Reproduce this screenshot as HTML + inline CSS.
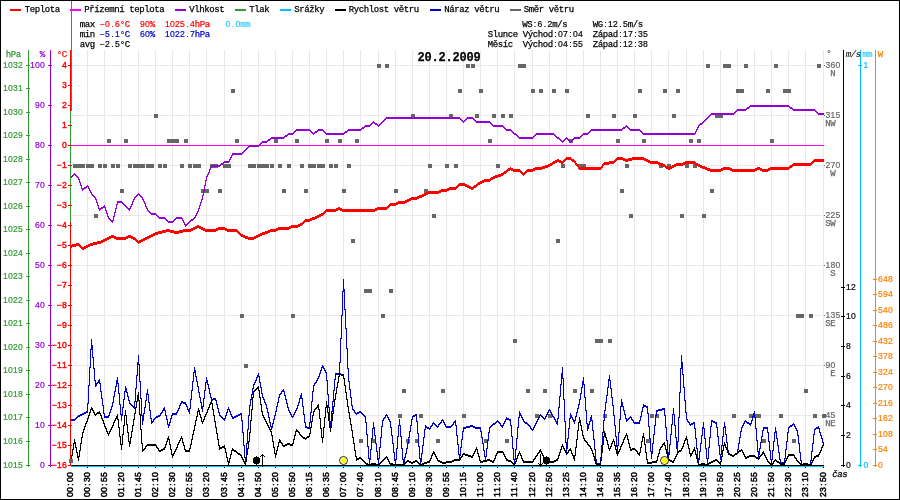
<!DOCTYPE html>
<html><head><meta charset="utf-8"><title>graf</title>
<style>
html,body{margin:0;padding:0;background:#fff;}
svg{display:block;}
.t{font-family:"Liberation Mono",monospace;font-size:9.0px;white-space:pre;}
.s{font-family:"Liberation Sans",sans-serif;font-size:8.6px;stroke-width:0.2px;}
.b .s{stroke-width:0.5px;}
.r .s{stroke-width:0.42px;}
.t{stroke-width:0.25px;}
.b{stroke-width:0.55px;}
.t.n,.t.n .s{stroke-width:0.05px;}
.h{font-family:"Liberation Mono",monospace;font-size:12px;font-weight:bold;letter-spacing:-0.2px;stroke:#000;stroke-width:0.25px;}
</style></head><body>
<svg width="900" height="500" viewBox="0 0 900 500">
<rect x="0" y="0" width="900" height="500" fill="#ffffff"/>
<g shape-rendering="crispEdges">
<rect x="87" y="50" width="1" height="415" fill="#ece6e6"/>
<rect x="104" y="50" width="1" height="415" fill="#ece6e6"/>
<rect x="121" y="50" width="1" height="415" fill="#ece6e6"/>
<rect x="138" y="50" width="1" height="415" fill="#ece6e6"/>
<rect x="155" y="50" width="1" height="415" fill="#ece6e6"/>
<rect x="172" y="50" width="1" height="415" fill="#ece6e6"/>
<rect x="189" y="50" width="1" height="415" fill="#ece6e6"/>
<rect x="206" y="50" width="1" height="415" fill="#ece6e6"/>
<rect x="224" y="50" width="1" height="415" fill="#ece6e6"/>
<rect x="241" y="50" width="1" height="415" fill="#ece6e6"/>
<rect x="258" y="50" width="1" height="415" fill="#ece6e6"/>
<rect x="275" y="50" width="1" height="415" fill="#ece6e6"/>
<rect x="292" y="50" width="1" height="415" fill="#ece6e6"/>
<rect x="309" y="50" width="1" height="415" fill="#ece6e6"/>
<rect x="326" y="50" width="1" height="415" fill="#ece6e6"/>
<rect x="343" y="50" width="1" height="415" fill="#ece6e6"/>
<rect x="360" y="50" width="1" height="415" fill="#ece6e6"/>
<rect x="378" y="50" width="1" height="415" fill="#ece6e6"/>
<rect x="395" y="50" width="1" height="415" fill="#ece6e6"/>
<rect x="412" y="50" width="1" height="415" fill="#ece6e6"/>
<rect x="429" y="50" width="1" height="415" fill="#ece6e6"/>
<rect x="446" y="50" width="1" height="415" fill="#ece6e6"/>
<rect x="463" y="50" width="1" height="415" fill="#ece6e6"/>
<rect x="480" y="50" width="1" height="415" fill="#ece6e6"/>
<rect x="497" y="50" width="1" height="415" fill="#ece6e6"/>
<rect x="514" y="50" width="1" height="415" fill="#ece6e6"/>
<rect x="532" y="50" width="1" height="415" fill="#ece6e6"/>
<rect x="549" y="50" width="1" height="415" fill="#ece6e6"/>
<rect x="566" y="50" width="1" height="415" fill="#ece6e6"/>
<rect x="583" y="50" width="1" height="415" fill="#ece6e6"/>
<rect x="600" y="50" width="1" height="415" fill="#ece6e6"/>
<rect x="617" y="50" width="1" height="415" fill="#ece6e6"/>
<rect x="634" y="50" width="1" height="415" fill="#ece6e6"/>
<rect x="651" y="50" width="1" height="415" fill="#ece6e6"/>
<rect x="668" y="50" width="1" height="415" fill="#ece6e6"/>
<rect x="686" y="50" width="1" height="415" fill="#ece6e6"/>
<rect x="703" y="50" width="1" height="415" fill="#ece6e6"/>
<rect x="720" y="50" width="1" height="415" fill="#ece6e6"/>
<rect x="737" y="50" width="1" height="415" fill="#ece6e6"/>
<rect x="754" y="50" width="1" height="415" fill="#ece6e6"/>
<rect x="771" y="50" width="1" height="415" fill="#ece6e6"/>
<rect x="788" y="50" width="1" height="415" fill="#ece6e6"/>
<rect x="805" y="50" width="1" height="415" fill="#ece6e6"/>
<rect x="823" y="50" width="1" height="415" fill="#ece6e6"/>
<rect x="71" y="65" width="753" height="1" fill="#ece6e6"/>
<rect x="71" y="115" width="753" height="1" fill="#ece6e6"/>
<rect x="71" y="165" width="753" height="1" fill="#ece6e6"/>
<rect x="71" y="215" width="753" height="1" fill="#ece6e6"/>
<rect x="71" y="265" width="753" height="1" fill="#ece6e6"/>
<rect x="71" y="315" width="753" height="1" fill="#ece6e6"/>
<rect x="71" y="365" width="753" height="1" fill="#ece6e6"/>
<rect x="71" y="415" width="753" height="1" fill="#ece6e6"/>
<rect x="71" y="465" width="753" height="1" fill="#ece6e6"/>
</g>
<g shape-rendering="crispEdges" fill="#666666">
<rect x="377" y="64" width="4" height="4"/>
<rect x="385" y="64" width="4" height="4"/>
<rect x="466" y="64" width="4" height="4"/>
<rect x="471" y="64" width="4" height="4"/>
<rect x="518" y="64" width="4" height="4"/>
<rect x="522" y="64" width="4" height="4"/>
<rect x="706" y="64" width="4" height="4"/>
<rect x="723" y="64" width="4" height="4"/>
<rect x="727" y="64" width="4" height="4"/>
<rect x="744" y="64" width="4" height="4"/>
<rect x="774" y="64" width="4" height="4"/>
<rect x="817" y="64" width="4" height="4"/>
<rect x="231" y="89" width="4" height="4"/>
<rect x="458" y="89" width="4" height="4"/>
<rect x="479" y="89" width="4" height="4"/>
<rect x="531" y="89" width="4" height="4"/>
<rect x="539" y="89" width="4" height="4"/>
<rect x="552" y="89" width="4" height="4"/>
<rect x="565" y="89" width="4" height="4"/>
<rect x="638" y="89" width="4" height="4"/>
<rect x="663" y="89" width="4" height="4"/>
<rect x="676" y="89" width="4" height="4"/>
<rect x="736" y="89" width="4" height="4"/>
<rect x="740" y="89" width="4" height="4"/>
<rect x="766" y="89" width="4" height="4"/>
<rect x="783" y="89" width="4" height="4"/>
<rect x="787" y="89" width="4" height="4"/>
<rect x="154" y="114" width="4" height="4"/>
<rect x="411" y="114" width="4" height="4"/>
<rect x="449" y="114" width="4" height="4"/>
<rect x="475" y="114" width="4" height="4"/>
<rect x="492" y="114" width="4" height="4"/>
<rect x="501" y="114" width="4" height="4"/>
<rect x="509" y="114" width="4" height="4"/>
<rect x="586" y="114" width="4" height="4"/>
<rect x="612" y="114" width="4" height="4"/>
<rect x="633" y="114" width="4" height="4"/>
<rect x="672" y="114" width="4" height="4"/>
<rect x="715" y="114" width="4" height="4"/>
<rect x="719" y="114" width="4" height="4"/>
<rect x="107" y="139" width="4" height="4"/>
<rect x="124" y="139" width="4" height="4"/>
<rect x="167" y="139" width="4" height="4"/>
<rect x="171" y="139" width="4" height="4"/>
<rect x="175" y="139" width="4" height="4"/>
<rect x="184" y="139" width="4" height="4"/>
<rect x="235" y="139" width="4" height="4"/>
<rect x="274" y="139" width="4" height="4"/>
<rect x="295" y="139" width="4" height="4"/>
<rect x="325" y="139" width="4" height="4"/>
<rect x="338" y="139" width="4" height="4"/>
<rect x="355" y="139" width="4" height="4"/>
<rect x="488" y="139" width="4" height="4"/>
<rect x="569" y="139" width="4" height="4"/>
<rect x="616" y="139" width="4" height="4"/>
<rect x="642" y="139" width="4" height="4"/>
<rect x="689" y="139" width="4" height="4"/>
<rect x="697" y="139" width="4" height="4"/>
<rect x="770" y="139" width="4" height="4"/>
<rect x="73" y="164" width="4" height="4"/>
<rect x="77" y="164" width="4" height="4"/>
<rect x="81" y="164" width="4" height="4"/>
<rect x="86" y="164" width="4" height="4"/>
<rect x="90" y="164" width="4" height="4"/>
<rect x="98" y="164" width="4" height="4"/>
<rect x="103" y="164" width="4" height="4"/>
<rect x="111" y="164" width="4" height="4"/>
<rect x="116" y="164" width="4" height="4"/>
<rect x="128" y="164" width="4" height="4"/>
<rect x="133" y="164" width="4" height="4"/>
<rect x="137" y="164" width="4" height="4"/>
<rect x="141" y="164" width="4" height="4"/>
<rect x="146" y="164" width="4" height="4"/>
<rect x="150" y="164" width="4" height="4"/>
<rect x="158" y="164" width="4" height="4"/>
<rect x="163" y="164" width="4" height="4"/>
<rect x="180" y="164" width="4" height="4"/>
<rect x="188" y="164" width="4" height="4"/>
<rect x="193" y="164" width="4" height="4"/>
<rect x="197" y="164" width="4" height="4"/>
<rect x="210" y="164" width="4" height="4"/>
<rect x="214" y="164" width="4" height="4"/>
<rect x="223" y="164" width="4" height="4"/>
<rect x="227" y="164" width="4" height="4"/>
<rect x="248" y="164" width="4" height="4"/>
<rect x="252" y="164" width="4" height="4"/>
<rect x="257" y="164" width="4" height="4"/>
<rect x="261" y="164" width="4" height="4"/>
<rect x="265" y="164" width="4" height="4"/>
<rect x="270" y="164" width="4" height="4"/>
<rect x="278" y="164" width="4" height="4"/>
<rect x="287" y="164" width="4" height="4"/>
<rect x="300" y="164" width="4" height="4"/>
<rect x="308" y="164" width="4" height="4"/>
<rect x="312" y="164" width="4" height="4"/>
<rect x="317" y="164" width="4" height="4"/>
<rect x="321" y="164" width="4" height="4"/>
<rect x="329" y="164" width="4" height="4"/>
<rect x="334" y="164" width="4" height="4"/>
<rect x="347" y="164" width="4" height="4"/>
<rect x="428" y="164" width="4" height="4"/>
<rect x="445" y="164" width="4" height="4"/>
<rect x="454" y="164" width="4" height="4"/>
<rect x="496" y="164" width="4" height="4"/>
<rect x="561" y="164" width="4" height="4"/>
<rect x="578" y="164" width="4" height="4"/>
<rect x="582" y="164" width="4" height="4"/>
<rect x="625" y="164" width="4" height="4"/>
<rect x="659" y="164" width="4" height="4"/>
<rect x="667" y="164" width="4" height="4"/>
<rect x="685" y="164" width="4" height="4"/>
<rect x="693" y="164" width="4" height="4"/>
<rect x="120" y="189" width="4" height="4"/>
<rect x="201" y="189" width="4" height="4"/>
<rect x="205" y="189" width="4" height="4"/>
<rect x="218" y="189" width="4" height="4"/>
<rect x="282" y="189" width="4" height="4"/>
<rect x="304" y="189" width="4" height="4"/>
<rect x="342" y="189" width="4" height="4"/>
<rect x="394" y="189" width="4" height="4"/>
<rect x="424" y="189" width="4" height="4"/>
<rect x="620" y="189" width="4" height="4"/>
<rect x="710" y="189" width="4" height="4"/>
<rect x="94" y="214" width="4" height="4"/>
<rect x="432" y="214" width="4" height="4"/>
<rect x="629" y="214" width="4" height="4"/>
<rect x="680" y="214" width="4" height="4"/>
<rect x="702" y="214" width="4" height="4"/>
<rect x="351" y="239" width="4" height="4"/>
<rect x="556" y="239" width="4" height="4"/>
<rect x="364" y="289" width="4" height="4"/>
<rect x="368" y="289" width="4" height="4"/>
<rect x="389" y="289" width="4" height="4"/>
<rect x="240" y="314" width="4" height="4"/>
<rect x="291" y="314" width="4" height="4"/>
<rect x="381" y="314" width="4" height="4"/>
<rect x="796" y="314" width="4" height="4"/>
<rect x="800" y="314" width="4" height="4"/>
<rect x="809" y="314" width="4" height="4"/>
<rect x="513" y="339" width="4" height="4"/>
<rect x="595" y="339" width="4" height="4"/>
<rect x="599" y="339" width="4" height="4"/>
<rect x="608" y="339" width="4" height="4"/>
<rect x="244" y="364" width="4" height="4"/>
<rect x="402" y="389" width="4" height="4"/>
<rect x="441" y="389" width="4" height="4"/>
<rect x="526" y="389" width="4" height="4"/>
<rect x="543" y="389" width="4" height="4"/>
<rect x="573" y="389" width="4" height="4"/>
<rect x="590" y="389" width="4" height="4"/>
<rect x="804" y="389" width="4" height="4"/>
<rect x="398" y="414" width="4" height="4"/>
<rect x="419" y="414" width="4" height="4"/>
<rect x="462" y="414" width="4" height="4"/>
<rect x="535" y="414" width="4" height="4"/>
<rect x="548" y="414" width="4" height="4"/>
<rect x="603" y="414" width="4" height="4"/>
<rect x="650" y="414" width="4" height="4"/>
<rect x="655" y="414" width="4" height="4"/>
<rect x="732" y="414" width="4" height="4"/>
<rect x="749" y="414" width="4" height="4"/>
<rect x="753" y="414" width="4" height="4"/>
<rect x="757" y="414" width="4" height="4"/>
<rect x="779" y="414" width="4" height="4"/>
<rect x="813" y="414" width="4" height="4"/>
<rect x="822" y="414" width="4" height="4"/>
<rect x="359" y="439" width="4" height="4"/>
<rect x="372" y="439" width="4" height="4"/>
<rect x="406" y="439" width="4" height="4"/>
<rect x="415" y="439" width="4" height="4"/>
<rect x="436" y="439" width="4" height="4"/>
<rect x="484" y="439" width="4" height="4"/>
<rect x="505" y="439" width="4" height="4"/>
<rect x="646" y="439" width="4" height="4"/>
<rect x="762" y="439" width="4" height="4"/>
<rect x="792" y="439" width="4" height="4"/>
</g>
<g shape-rendering="crispEdges">
<rect x="71" y="145" width="753" height="1" fill="#ff00ff"/>
</g>
<path fill="#9400d3" shape-rendering="crispEdges" d="M750 105h39v1h-39zM749 106h41v1h-41zM747 107h3v1h-3zM789 107h3v1h-3zM746 108h3v1h-3zM790 108h3v1h-3zM737 109h10v1h-10zM792 109h23v1h-23zM736 110h10v1h-10zM793 110h23v1h-23zM735 111h2v1h-2zM815 111h2v1h-2zM734 112h2v1h-2zM816 112h2v1h-2zM711 113h24v1h-24zM817 113h7v1h-7zM710 114h24v1h-24zM818 114h6v1h-6zM709 115h2v1h-2zM708 116h2v1h-2zM386 117h74v1h-74zM467 117h6v1h-6zM707 117h2v1h-2zM385 118h76v1h-76zM466 118h8v1h-8zM706 118h2v1h-2zM384 119h2v1h-2zM460 119h2v1h-2zM465 119h2v1h-2zM473 119h2v1h-2zM705 119h2v1h-2zM383 120h2v1h-2zM461 120h2v1h-2zM464 120h2v1h-2zM474 120h2v1h-2zM704 120h2v1h-2zM373 121h1v1h-1zM382 121h2v1h-2zM462 121h3v1h-3zM475 121h15v1h-15zM703 121h2v1h-2zM372 122h3v1h-3zM381 122h2v1h-2zM463 122h1v1h-1zM476 122h15v1h-15zM702 122h2v1h-2zM371 123h2v1h-2zM374 123h3v1h-3zM380 123h2v1h-2zM490 123h2v1h-2zM700 123h3v1h-3zM370 124h2v1h-2zM375 124h3v1h-3zM379 124h2v1h-2zM491 124h2v1h-2zM699 124h3v1h-3zM365 125h6v1h-6zM377 125h3v1h-3zM492 125h11v1h-11zM626 125h1v1h-1zM698 125h2v1h-2zM364 126h6v1h-6zM378 126h1v1h-1zM493 126h11v1h-11zM625 126h3v1h-3zM698 126h1v1h-1zM362 127h3v1h-3zM503 127h2v1h-2zM623 127h3v1h-3zM627 127h2v1h-2zM697 127h2v1h-2zM361 128h3v1h-3zM504 128h2v1h-2zM622 128h3v1h-3zM628 128h2v1h-2zM697 128h1v1h-1zM296 129h14v1h-14zM318 129h5v1h-5zM348 129h14v1h-14zM505 129h6v1h-6zM591 129h32v1h-32zM629 129h11v1h-11zM696 129h2v1h-2zM295 130h16v1h-16zM317 130h7v1h-7zM347 130h14v1h-14zM506 130h6v1h-6zM590 130h32v1h-32zM630 130h11v1h-11zM696 130h1v1h-1zM294 131h2v1h-2zM310 131h2v1h-2zM315 131h3v1h-3zM323 131h2v1h-2zM345 131h3v1h-3zM511 131h2v1h-2zM589 131h2v1h-2zM640 131h2v1h-2zM695 131h2v1h-2zM293 132h2v1h-2zM311 132h2v1h-2zM314 132h3v1h-3zM324 132h2v1h-2zM344 132h3v1h-3zM512 132h2v1h-2zM588 132h2v1h-2zM641 132h2v1h-2zM695 132h1v1h-1zM288 133h6v1h-6zM312 133h3v1h-3zM325 133h20v1h-20zM513 133h3v1h-3zM536 133h18v1h-18zM583 133h6v1h-6zM642 133h54v1h-54zM287 134h6v1h-6zM313 134h1v1h-1zM326 134h18v1h-18zM514 134h3v1h-3zM535 134h20v1h-20zM582 134h6v1h-6zM643 134h52v1h-52zM285 135h3v1h-3zM516 135h2v1h-2zM534 135h2v1h-2zM554 135h2v1h-2zM581 135h2v1h-2zM284 136h3v1h-3zM517 136h2v1h-2zM533 136h2v1h-2zM555 136h2v1h-2zM580 136h2v1h-2zM271 137h14v1h-14zM518 137h16v1h-16zM556 137h3v1h-3zM566 137h1v1h-1zM574 137h7v1h-7zM270 138h14v1h-14zM519 138h14v1h-14zM557 138h3v1h-3zM565 138h3v1h-3zM573 138h7v1h-7zM268 139h3v1h-3zM559 139h2v1h-2zM564 139h2v1h-2zM567 139h2v1h-2zM572 139h2v1h-2zM267 140h3v1h-3zM560 140h2v1h-2zM563 140h2v1h-2zM568 140h2v1h-2zM571 140h2v1h-2zM262 141h6v1h-6zM561 141h3v1h-3zM569 141h3v1h-3zM261 142h6v1h-6zM562 142h1v1h-1zM570 142h1v1h-1zM260 143h2v1h-2zM259 144h2v1h-2zM249 145h11v1h-11zM248 146h11v1h-11zM247 147h2v1h-2zM246 148h2v1h-2zM245 149h2v1h-2zM244 150h2v1h-2zM243 151h2v1h-2zM242 152h2v1h-2zM232 153h11v1h-11zM232 154h10v1h-10zM231 155h2v1h-2zM231 156h1v1h-1zM230 157h2v1h-2zM230 158h1v1h-1zM229 159h2v1h-2zM229 160h1v1h-1zM224 161h6v1h-6zM223 162h6v1h-6zM221 163h3v1h-3zM220 164h3v1h-3zM211 165h10v1h-10zM211 166h9v1h-9zM210 167h2v1h-2zM210 168h1v1h-1zM209 169h2v1h-2zM209 170h1v1h-1zM209 171h1v1h-1zM208 172h2v1h-2zM74 173h1v1h-1zM208 173h1v1h-1zM73 174h3v1h-3zM207 174h2v1h-2zM72 175h2v1h-2zM75 175h2v1h-2zM207 175h1v1h-1zM71 176h2v1h-2zM76 176h2v1h-2zM206 176h2v1h-2zM71 177h1v1h-1zM77 177h2v1h-2zM206 177h1v1h-1zM78 178h1v1h-1zM206 178h1v1h-1zM78 179h2v1h-2zM206 179h1v1h-1zM79 180h1v1h-1zM205 180h2v1h-2zM79 181h1v1h-1zM205 181h1v1h-1zM79 182h2v1h-2zM205 182h1v1h-1zM80 183h1v1h-1zM205 183h1v1h-1zM80 184h1v1h-1zM205 184h1v1h-1zM80 185h2v1h-2zM87 185h1v1h-1zM204 185h2v1h-2zM81 186h1v1h-1zM86 186h3v1h-3zM204 186h1v1h-1zM81 187h1v1h-1zM84 187h3v1h-3zM88 187h1v1h-1zM204 187h1v1h-1zM81 188h5v1h-5zM88 188h2v1h-2zM204 188h1v1h-1zM82 189h2v1h-2zM89 189h1v1h-1zM204 189h1v1h-1zM82 190h1v1h-1zM89 190h2v1h-2zM203 190h2v1h-2zM90 191h1v1h-1zM203 191h1v1h-1zM90 192h2v1h-2zM203 192h1v1h-1zM91 193h1v1h-1zM138 193h1v1h-1zM203 193h1v1h-1zM91 194h2v1h-2zM137 194h3v1h-3zM203 194h1v1h-1zM92 195h2v1h-2zM136 195h2v1h-2zM139 195h2v1h-2zM202 195h2v1h-2zM93 196h2v1h-2zM135 196h2v1h-2zM140 196h2v1h-2zM202 196h1v1h-1zM94 197h2v1h-2zM134 197h2v1h-2zM141 197h2v1h-2zM202 197h1v1h-1zM95 198h1v1h-1zM134 198h1v1h-1zM142 198h1v1h-1zM202 198h1v1h-1zM95 199h2v1h-2zM133 199h2v1h-2zM142 199h2v1h-2zM201 199h2v1h-2zM96 200h1v1h-1zM133 200h1v1h-1zM143 200h1v1h-1zM201 200h1v1h-1zM96 201h1v1h-1zM117 201h5v1h-5zM132 201h2v1h-2zM143 201h2v1h-2zM201 201h1v1h-1zM96 202h2v1h-2zM117 202h6v1h-6zM132 202h1v1h-1zM144 202h1v1h-1zM200 202h2v1h-2zM97 203h1v1h-1zM117 203h1v1h-1zM122 203h2v1h-2zM132 203h1v1h-1zM144 203h2v1h-2zM200 203h1v1h-1zM97 204h1v1h-1zM116 204h2v1h-2zM123 204h2v1h-2zM131 204h2v1h-2zM145 204h1v1h-1zM200 204h1v1h-1zM97 205h2v1h-2zM104 205h1v1h-1zM116 205h1v1h-1zM124 205h2v1h-2zM131 205h1v1h-1zM145 205h1v1h-1zM199 205h2v1h-2zM98 206h1v1h-1zM103 206h2v1h-2zM116 206h1v1h-1zM125 206h2v1h-2zM130 206h2v1h-2zM145 206h2v1h-2zM199 206h1v1h-1zM98 207h1v1h-1zM101 207h5v1h-5zM116 207h1v1h-1zM126 207h2v1h-2zM130 207h1v1h-1zM146 207h1v1h-1zM199 207h1v1h-1zM98 208h5v1h-5zM105 208h1v1h-1zM115 208h2v1h-2zM127 208h4v1h-4zM146 208h2v1h-2zM198 208h2v1h-2zM99 209h2v1h-2zM105 209h1v1h-1zM115 209h1v1h-1zM128 209h2v1h-2zM147 209h1v1h-1zM198 209h1v1h-1zM99 210h1v1h-1zM105 210h2v1h-2zM115 210h1v1h-1zM129 210h1v1h-1zM147 210h2v1h-2zM198 210h1v1h-1zM106 211h1v1h-1zM115 211h1v1h-1zM148 211h2v1h-2zM197 211h2v1h-2zM106 212h1v1h-1zM114 212h2v1h-2zM149 212h2v1h-2zM197 212h1v1h-1zM106 213h2v1h-2zM114 213h1v1h-1zM150 213h6v1h-6zM196 213h2v1h-2zM107 214h1v1h-1zM114 214h1v1h-1zM151 214h6v1h-6zM196 214h1v1h-1zM107 215h1v1h-1zM114 215h1v1h-1zM156 215h2v1h-2zM195 215h2v1h-2zM107 216h2v1h-2zM113 216h2v1h-2zM157 216h2v1h-2zM195 216h1v1h-1zM108 217h1v1h-1zM113 217h1v1h-1zM158 217h7v1h-7zM176 217h6v1h-6zM194 217h2v1h-2zM108 218h2v1h-2zM113 218h1v1h-1zM159 218h7v1h-7zM175 218h8v1h-8zM193 218h2v1h-2zM109 219h2v1h-2zM113 219h1v1h-1zM165 219h2v1h-2zM174 219h2v1h-2zM182 219h1v1h-1zM191 219h3v1h-3zM110 220h4v1h-4zM166 220h2v1h-2zM173 220h2v1h-2zM182 220h2v1h-2zM190 220h3v1h-3zM111 221h2v1h-2zM167 221h7v1h-7zM183 221h1v1h-1zM189 221h2v1h-2zM112 222h1v1h-1zM168 222h5v1h-5zM183 222h2v1h-2zM188 222h2v1h-2zM184 223h1v1h-1zM187 223h2v1h-2zM184 224h4v1h-4zM185 225h2v1h-2zM185 226h1v1h-1z"/>
<path fill="#ff0000" shape-rendering="crispEdges" d="M566 157h5v1h-5zM617 157h6v1h-6zM632 157h12v1h-12zM565 158h7v1h-7zM616 158h9v1h-9zM628 158h18v1h-18zM557 159h2v1h-2zM564 159h10v1h-10zM615 159h33v1h-33zM814 159h10v1h-10zM555 160h6v1h-6zM563 160h3v1h-3zM571 160h4v1h-4zM614 160h3v1h-3zM623 160h9v1h-9zM644 160h6v1h-6zM813 160h11v1h-11zM553 161h12v1h-12zM572 161h4v1h-4zM609 161h7v1h-7zM625 161h3v1h-3zM646 161h12v1h-12zM685 161h10v1h-10zM812 161h12v1h-12zM552 162h5v1h-5zM559 162h5v1h-5zM574 162h2v1h-2zM604 162h11v1h-11zM648 162h12v1h-12zM683 162h13v1h-13zM811 162h3v1h-3zM550 163h5v1h-5zM561 163h2v1h-2zM575 163h2v1h-2zM603 163h11v1h-11zM650 163h13v1h-13zM676 163h22v1h-22zM793 163h20v1h-20zM548 164h5v1h-5zM575 164h3v1h-3zM602 164h7v1h-7zM658 164h7v1h-7zM674 164h11v1h-11zM695 164h5v1h-5zM792 164h20v1h-20zM545 165h7v1h-7zM576 165h3v1h-3zM602 165h2v1h-2zM660 165h6v1h-6zM672 165h11v1h-11zM696 165h6v1h-6zM790 165h21v1h-21zM542 166h8v1h-8zM577 166h2v1h-2zM601 166h2v1h-2zM663 166h5v1h-5zM670 166h6v1h-6zM698 166h7v1h-7zM789 166h4v1h-4zM510 167h1v1h-1zM535 167h13v1h-13zM578 167h25v1h-25zM665 167h9v1h-9zM700 167h7v1h-7zM723 167h7v1h-7zM757 167h3v1h-3zM770 167h22v1h-22zM508 168h5v1h-5zM533 168h12v1h-12zM578 168h24v1h-24zM666 168h6v1h-6zM702 168h8v1h-8zM721 168h11v1h-11zM755 168h7v1h-7zM768 168h22v1h-22zM507 169h13v1h-13zM527 169h15v1h-15zM579 169h22v1h-22zM668 169h2v1h-2zM705 169h84v1h-84zM506 170h4v1h-4zM511 170h10v1h-10zM526 170h9v1h-9zM707 170h16v1h-16zM730 170h27v1h-27zM760 170h10v1h-10zM504 171h4v1h-4zM513 171h9v1h-9zM525 171h8v1h-8zM710 171h11v1h-11zM732 171h23v1h-23zM762 171h6v1h-6zM503 172h4v1h-4zM520 172h3v1h-3zM524 172h3v1h-3zM501 173h5v1h-5zM521 173h5v1h-5zM498 174h6v1h-6zM522 174h3v1h-3zM495 175h8v1h-8zM523 175h1v1h-1zM493 176h8v1h-8zM491 177h7v1h-7zM490 178h5v1h-5zM484 179h9v1h-9zM482 180h9v1h-9zM480 181h10v1h-10zM478 182h6v1h-6zM459 183h6v1h-6zM477 183h5v1h-5zM458 184h9v1h-9zM476 184h4v1h-4zM457 185h12v1h-12zM474 185h4v1h-4zM456 186h3v1h-3zM465 186h6v1h-6zM473 186h4v1h-4zM449 187h9v1h-9zM467 187h9v1h-9zM447 188h10v1h-10zM469 188h5v1h-5zM441 189h15v1h-15zM471 189h2v1h-2zM439 190h10v1h-10zM428 191h19v1h-19zM426 192h15v1h-15zM424 193h15v1h-15zM422 194h6v1h-6zM419 195h7v1h-7zM417 196h7v1h-7zM411 197h11v1h-11zM409 198h10v1h-10zM407 199h10v1h-10zM405 200h6v1h-6zM398 201h11v1h-11zM396 202h11v1h-11zM390 203h15v1h-15zM389 204h9v1h-9zM388 205h8v1h-8zM387 206h3v1h-3zM338 207h2v1h-2zM377 207h12v1h-12zM336 208h6v1h-6zM375 208h13v1h-13zM326 209h61v1h-61zM325 210h13v1h-13zM340 210h37v1h-37zM324 211h12v1h-12zM342 211h33v1h-33zM323 212h3v1h-3zM321 213h4v1h-4zM319 214h5v1h-5zM317 215h6v1h-6zM315 216h6v1h-6zM312 217h7v1h-7zM310 218h7v1h-7zM305 219h10v1h-10zM304 220h8v1h-8zM303 221h7v1h-7zM302 222h3v1h-3zM300 223h4v1h-4zM298 224h5v1h-5zM197 225h2v1h-2zM291 225h11v1h-11zM195 226h6v1h-6zM289 226h11v1h-11zM193 227h10v1h-10zM218 227h7v1h-7zM278 227h20v1h-20zM191 228h6v1h-6zM199 228h6v1h-6zM216 228h11v1h-11zM276 228h15v1h-15zM166 229h4v1h-4zM183 229h12v1h-12zM201 229h36v1h-36zM270 229h19v1h-19zM162 230h12v1h-12zM179 230h14v1h-14zM203 230h15v1h-15zM225 230h13v1h-13zM268 230h10v1h-10zM158 231h33v1h-33zM205 231h11v1h-11zM227 231h12v1h-12zM265 231h11v1h-11zM155 232h11v1h-11zM170 232h13v1h-13zM237 232h3v1h-3zM262 232h8v1h-8zM153 233h9v1h-9zM174 233h5v1h-5zM238 233h3v1h-3zM260 233h8v1h-8zM151 234h7v1h-7zM239 234h4v1h-4zM258 234h7v1h-7zM111 235h3v1h-3zM128 235h3v1h-3zM149 235h6v1h-6zM240 235h5v1h-5zM256 235h6v1h-6zM109 236h7v1h-7zM126 236h7v1h-7zM147 236h6v1h-6zM241 236h7v1h-7zM254 236h6v1h-6zM107 237h28v1h-28zM145 237h6v1h-6zM243 237h15v1h-15zM105 238h6v1h-6zM114 238h14v1h-14zM131 238h5v1h-5zM143 238h6v1h-6zM245 238h11v1h-11zM103 239h6v1h-6zM116 239h10v1h-10zM133 239h4v1h-4zM141 239h6v1h-6zM248 239h6v1h-6zM101 240h6v1h-6zM135 240h3v1h-3zM139 240h6v1h-6zM97 241h8v1h-8zM136 241h7v1h-7zM93 242h10v1h-10zM137 242h4v1h-4zM76 243h3v1h-3zM90 243h11v1h-11zM138 243h1v1h-1zM72 244h8v1h-8zM88 244h9v1h-9zM71 245h10v1h-10zM86 245h7v1h-7zM71 246h5v1h-5zM79 246h3v1h-3zM84 246h6v1h-6zM71 247h1v1h-1zM80 247h8v1h-8zM81 248h5v1h-5zM82 249h2v1h-2z"/>
<path fill="#0000cd" shape-rendering="crispEdges" d="M71 419h1v2h-1zM72 419h1v2h-1zM73 419h1v2h-1zM74 419h1v2h-1zM75 418h1v2h-1zM76 417h1v2h-1zM77 416h1v2h-1zM78 415h1v2h-1zM79 415h1v2h-1zM80 414h1v2h-1zM81 414h1v2h-1zM82 413h1v2h-1zM83 413h1v2h-1zM84 412h1v2h-1zM85 412h1v2h-1zM86 411h1v2h-1zM87 403h1v10h-1zM88 385h1v19h-1zM89 367h1v19h-1zM90 349h1v19h-1zM91 339h1v11h-1zM92 345h1v13h-1zM93 357h1v12h-1zM94 368h1v13h-1zM95 380h1v7h-1zM96 383h1v3h-1zM97 382h1v2h-1zM98 380h1v3h-1zM99 379h1v5h-1zM100 383h1v9h-1zM101 391h1v8h-1zM102 398h1v8h-1zM103 405h1v9h-1zM104 413h1v5h-1zM105 416h1v2h-1zM106 416h1v2h-1zM107 416h1v2h-1zM108 415h1v3h-1zM109 412h1v4h-1zM110 409h1v4h-1zM111 406h1v4h-1zM112 402h1v5h-1zM113 396h1v7h-1zM114 391h1v6h-1zM115 386h1v6h-1zM116 380h1v7h-1zM117 377h1v7h-1zM118 383h1v11h-1zM119 393h1v12h-1zM120 404h1v11h-1zM121 414h1v7h-1zM122 407h1v9h-1zM123 399h1v9h-1zM124 391h1v9h-1zM125 386h1v6h-1zM126 388h1v5h-1zM127 392h1v5h-1zM128 396h1v5h-1zM129 400h1v4h-1zM130 403h1v2h-1zM131 404h1v2h-1zM132 405h1v2h-1zM133 406h1v2h-1zM134 401h1v8h-1zM135 388h1v14h-1zM136 375h1v14h-1zM137 362h1v14h-1zM138 355h1v10h-1zM139 364h1v18h-1zM140 381h1v18h-1zM141 398h1v18h-1zM142 415h1v10h-1zM143 413h1v8h-1zM144 407h1v7h-1zM145 400h1v8h-1zM146 393h1v8h-1zM147 389h1v6h-1zM148 394h1v9h-1zM149 402h1v9h-1zM150 410h1v9h-1zM151 418h1v6h-1zM152 421h1v2h-1zM153 419h1v3h-1zM154 418h1v2h-1zM155 417h1v2h-1zM156 416h1v2h-1zM157 416h1v2h-1zM158 415h1v2h-1zM159 415h1v2h-1zM160 413h1v3h-1zM161 412h1v2h-1zM162 410h1v3h-1zM163 408h1v3h-1zM164 407h1v4h-1zM165 410h1v6h-1zM166 415h1v5h-1zM167 419h1v6h-1zM168 424h1v4h-1zM169 422h1v4h-1zM170 418h1v5h-1zM171 415h1v4h-1zM172 413h1v3h-1zM173 413h1v2h-1zM174 413h1v2h-1zM175 413h1v2h-1zM176 412h1v3h-1zM177 410h1v3h-1zM178 408h1v3h-1zM179 405h1v4h-1zM180 403h1v3h-1zM181 401h1v3h-1zM182 401h1v2h-1zM183 402h1v2h-1zM184 402h1v2h-1zM185 402h1v3h-1zM186 404h1v3h-1zM187 406h1v4h-1zM188 409h1v3h-1zM189 408h1v6h-1zM190 399h1v10h-1zM191 390h1v10h-1zM192 381h1v10h-1zM193 372h1v10h-1zM194 367h1v6h-1zM195 370h1v7h-1zM196 376h1v6h-1zM197 381h1v6h-1zM198 386h1v7h-1zM199 392h1v6h-1zM200 397h1v6h-1zM201 402h1v7h-1zM202 406h1v6h-1zM203 398h1v9h-1zM204 390h1v9h-1zM205 382h1v9h-1zM206 377h1v6h-1zM207 380h1v5h-1zM208 384h1v5h-1zM209 388h1v6h-1zM210 393h1v5h-1zM211 397h1v4h-1zM212 399h1v2h-1zM213 398h1v2h-1zM214 398h1v2h-1zM215 398h1v3h-1zM216 400h1v5h-1zM217 404h1v5h-1zM218 408h1v5h-1zM219 412h1v4h-1zM220 415h1v2h-1zM221 416h1v2h-1zM222 417h1v2h-1zM223 418h1v2h-1zM224 418h1v3h-1zM225 415h1v4h-1zM226 412h1v4h-1zM227 409h1v4h-1zM228 407h1v3h-1zM229 409h1v3h-1zM230 411h1v4h-1zM231 414h1v3h-1zM232 416h1v3h-1zM233 417h1v2h-1zM234 416h1v2h-1zM235 416h1v2h-1zM236 415h1v2h-1zM237 415h1v2h-1zM238 414h1v2h-1zM239 414h1v2h-1zM240 413h1v2h-1zM241 413h1v8h-1zM242 420h1v13h-1zM243 432h1v14h-1zM244 445h1v13h-1zM245 457h1v8h-1zM246 443h1v15h-1zM247 429h1v15h-1zM248 415h1v15h-1zM249 405h1v11h-1zM250 399h1v7h-1zM251 394h1v6h-1zM252 388h1v7h-1zM253 384h1v5h-1zM254 382h1v3h-1zM255 380h1v3h-1zM256 377h1v4h-1zM257 375h1v3h-1zM258 373h1v4h-1zM259 376h1v7h-1zM260 382h1v6h-1zM261 387h1v7h-1zM262 393h1v5h-1zM263 397h1v3h-1zM264 399h1v4h-1zM265 402h1v3h-1zM266 404h1v5h-1zM267 408h1v5h-1zM268 412h1v6h-1zM269 417h1v6h-1zM270 422h1v5h-1zM271 426h1v4h-1zM272 423h1v5h-1zM273 419h1v5h-1zM274 415h1v5h-1zM275 411h1v5h-1zM276 406h1v6h-1zM277 402h1v5h-1zM278 397h1v6h-1zM279 394h1v4h-1zM280 393h1v2h-1zM281 391h1v3h-1zM282 390h1v2h-1zM283 389h1v3h-1zM284 391h1v5h-1zM285 395h1v5h-1zM286 399h1v5h-1zM287 403h1v5h-1zM288 407h1v4h-1zM289 410h1v3h-1zM290 412h1v3h-1zM291 414h1v3h-1zM292 416h1v2h-1zM293 414h1v3h-1zM294 412h1v3h-1zM295 410h1v3h-1zM296 408h1v3h-1zM297 405h1v4h-1zM298 402h1v4h-1zM299 398h1v5h-1zM300 395h1v4h-1zM301 393h1v6h-1zM302 398h1v9h-1zM303 406h1v9h-1zM304 414h1v9h-1zM305 422h1v6h-1zM306 426h1v2h-1zM307 427h1v2h-1zM308 427h1v2h-1zM309 422h1v7h-1zM310 412h1v11h-1zM311 401h1v12h-1zM312 391h1v11h-1zM313 385h1v7h-1zM314 383h1v3h-1zM315 382h1v2h-1zM316 380h1v3h-1zM317 378h1v3h-1zM318 376h1v3h-1zM319 373h1v4h-1zM320 370h1v4h-1zM321 367h1v4h-1zM322 365h1v3h-1zM323 366h1v3h-1zM324 368h1v3h-1zM325 370h1v3h-1zM326 372h1v9h-1zM327 380h1v15h-1zM328 394h1v14h-1zM329 407h1v15h-1zM330 421h1v8h-1zM331 411h1v12h-1zM332 401h1v11h-1zM333 390h1v12h-1zM334 379h1v12h-1zM335 373h1v7h-1zM336 373h1v2h-1zM337 373h1v2h-1zM338 373h1v2h-1zM339 362h1v13h-1zM340 338h1v25h-1zM341 315h1v24h-1zM342 291h1v25h-1zM343 279h1v13h-1zM344 289h1v21h-1zM345 309h1v20h-1zM346 328h1v21h-1zM347 348h1v21h-1zM348 368h1v14h-1zM349 381h1v9h-1zM350 389h1v9h-1zM351 397h1v9h-1zM352 405h1v5h-1zM353 409h1v2h-1zM354 410h1v3h-1zM355 412h1v2h-1zM356 413h1v2h-1zM357 412h1v2h-1zM358 412h1v2h-1zM359 411h1v2h-1zM360 411h1v2h-1zM361 412h1v2h-1zM362 413h1v2h-1zM363 414h1v2h-1zM364 415h1v2h-1zM365 416h1v7h-1zM366 422h1v13h-1zM367 434h1v13h-1zM368 446h1v13h-1zM369 458h1v8h-1zM370 449h1v11h-1zM371 438h1v12h-1zM372 428h1v11h-1zM373 422h1v7h-1zM374 427h1v9h-1zM375 435h1v9h-1zM376 443h1v9h-1zM377 451h1v9h-1zM378 458h1v7h-1zM379 447h1v12h-1zM380 437h1v11h-1zM381 426h1v12h-1zM382 420h1v7h-1zM383 418h1v3h-1zM384 417h1v2h-1zM385 415h1v3h-1zM386 414h1v2h-1zM387 415h1v3h-1zM388 417h1v3h-1zM389 419h1v3h-1zM390 421h1v7h-1zM391 427h1v9h-1zM392 435h1v9h-1zM393 443h1v10h-1zM394 452h1v9h-1zM395 459h1v7h-1zM396 448h1v12h-1zM397 436h1v13h-1zM398 425h1v12h-1zM399 419h1v7h-1zM400 425h1v12h-1zM401 436h1v13h-1zM402 448h1v12h-1zM403 459h1v7h-1zM404 457h1v6h-1zM405 453h1v5h-1zM406 448h1v6h-1zM407 443h1v6h-1zM408 437h1v7h-1zM409 431h1v7h-1zM410 425h1v7h-1zM411 419h1v7h-1zM412 416h1v4h-1zM413 415h1v2h-1zM414 415h1v2h-1zM415 414h1v2h-1zM416 414h1v8h-1zM417 421h1v13h-1zM418 433h1v14h-1zM419 446h1v13h-1zM420 458h1v8h-1zM421 453h1v9h-1zM422 445h1v9h-1zM423 437h1v9h-1zM424 429h1v9h-1zM425 425h1v5h-1zM426 426h1v2h-1zM427 427h1v2h-1zM428 427h1v2h-1zM429 428h1v2h-1zM430 426h1v3h-1zM431 425h1v2h-1zM432 423h1v3h-1zM433 422h1v2h-1zM434 423h1v2h-1zM435 424h1v2h-1zM436 425h1v2h-1zM437 426h1v2h-1zM438 424h1v3h-1zM439 423h1v2h-1zM440 422h1v2h-1zM441 420h1v3h-1zM442 419h1v2h-1zM443 420h1v3h-1zM444 422h1v3h-1zM445 424h1v3h-1zM446 426h1v2h-1zM447 426h1v2h-1zM448 426h1v2h-1zM449 426h1v2h-1zM450 426h1v2h-1zM451 425h1v2h-1zM452 424h1v2h-1zM453 422h1v3h-1zM454 421h1v2h-1zM455 420h1v6h-1zM456 425h1v11h-1zM457 435h1v10h-1zM458 444h1v11h-1zM459 454h1v6h-1zM460 447h1v9h-1zM461 439h1v9h-1zM462 431h1v9h-1zM463 427h1v5h-1zM464 427h1v2h-1zM465 427h1v2h-1zM466 426h1v2h-1zM467 426h1v2h-1zM468 426h1v2h-1zM469 426h1v2h-1zM470 425h1v2h-1zM471 425h1v2h-1zM472 425h1v2h-1zM473 426h1v2h-1zM474 426h1v2h-1zM475 427h1v2h-1zM476 427h1v2h-1zM477 427h1v2h-1zM478 427h1v2h-1zM479 427h1v2h-1zM480 427h1v5h-1zM481 431h1v7h-1zM482 437h1v7h-1zM483 443h1v8h-1zM484 450h1v7h-1zM485 456h1v5h-1zM486 448h1v9h-1zM487 440h1v9h-1zM488 432h1v9h-1zM489 427h1v6h-1zM490 426h1v2h-1zM491 425h1v2h-1zM492 424h1v2h-1zM493 423h1v2h-1zM494 423h1v2h-1zM495 422h1v2h-1zM496 421h1v2h-1zM497 420h1v2h-1zM498 421h1v2h-1zM499 422h1v2h-1zM500 423h1v3h-1zM501 425h1v2h-1zM502 425h1v3h-1zM503 423h1v3h-1zM504 421h1v3h-1zM505 419h1v3h-1zM506 417h1v3h-1zM507 418h1v2h-1zM508 418h1v2h-1zM509 419h1v2h-1zM510 419h1v7h-1zM511 425h1v12h-1zM512 436h1v13h-1zM513 448h1v12h-1zM514 459h1v7h-1zM515 449h1v11h-1zM516 438h1v12h-1zM517 427h1v12h-1zM518 417h1v11h-1zM519 411h1v7h-1zM520 413h1v3h-1zM521 415h1v3h-1zM522 417h1v3h-1zM523 419h1v3h-1zM524 421h1v2h-1zM525 422h1v2h-1zM526 422h1v2h-1zM527 423h1v2h-1zM528 424h1v2h-1zM529 425h1v2h-1zM530 426h1v3h-1zM531 428h1v2h-1zM532 429h1v2h-1zM533 427h1v3h-1zM534 425h1v3h-1zM535 423h1v3h-1zM536 421h1v3h-1zM537 419h1v3h-1zM538 417h1v3h-1zM539 415h1v3h-1zM540 414h1v2h-1zM541 415h1v2h-1zM542 416h1v2h-1zM543 417h1v2h-1zM544 418h1v2h-1zM545 416h1v3h-1zM546 414h1v3h-1zM547 412h1v3h-1zM548 410h1v3h-1zM549 409h1v2h-1zM550 410h1v3h-1zM551 412h1v3h-1zM552 414h1v3h-1zM553 416h1v2h-1zM554 417h1v3h-1zM555 419h1v3h-1zM556 421h1v3h-1zM557 418h1v7h-1zM558 407h1v12h-1zM559 396h1v12h-1zM560 384h1v13h-1zM561 373h1v12h-1zM562 367h1v12h-1zM563 378h1v22h-1zM564 399h1v23h-1zM565 421h1v22h-1zM566 442h1v12h-1zM567 438h1v11h-1zM568 428h1v11h-1zM569 418h1v11h-1zM570 413h1v6h-1zM571 415h1v3h-1zM572 417h1v3h-1zM573 419h1v3h-1zM574 420h1v4h-1zM575 416h1v5h-1zM576 412h1v5h-1zM577 408h1v5h-1zM578 404h1v5h-1zM579 399h1v6h-1zM580 393h1v7h-1zM581 387h1v7h-1zM582 381h1v7h-1zM583 377h1v8h-1zM584 384h1v14h-1zM585 397h1v14h-1zM586 410h1v14h-1zM587 423h1v8h-1zM588 424h1v5h-1zM589 421h1v4h-1zM590 417h1v5h-1zM591 415h1v6h-1zM592 420h1v11h-1zM593 430h1v10h-1zM594 439h1v11h-1zM595 449h1v11h-1zM596 459h1v6h-1zM597 463h1v2h-1zM598 463h1v2h-1zM599 463h1v2h-1zM600 457h1v8h-1zM601 445h1v13h-1zM602 432h1v14h-1zM603 420h1v13h-1zM604 410h1v11h-1zM605 402h1v9h-1zM606 395h1v8h-1zM607 387h1v9h-1zM608 379h1v9h-1zM609 375h1v6h-1zM610 380h1v9h-1zM611 388h1v10h-1zM612 397h1v9h-1zM613 405h1v11h-1zM614 415h1v11h-1zM615 425h1v12h-1zM616 436h1v11h-1zM617 445h1v8h-1zM618 432h1v14h-1zM619 419h1v14h-1zM620 406h1v14h-1zM621 399h1v8h-1zM622 402h1v5h-1zM623 406h1v5h-1zM624 410h1v5h-1zM625 414h1v5h-1zM626 418h1v4h-1zM627 419h1v2h-1zM628 418h1v2h-1zM629 417h1v2h-1zM630 416h1v2h-1zM631 417h1v3h-1zM632 419h1v2h-1zM633 420h1v3h-1zM634 422h1v2h-1zM635 422h1v2h-1zM636 422h1v2h-1zM637 422h1v2h-1zM638 422h1v2h-1zM639 420h1v4h-1zM640 416h1v5h-1zM641 411h1v6h-1zM642 407h1v5h-1zM643 404h1v4h-1zM644 405h1v2h-1zM645 405h1v2h-1zM646 406h1v2h-1zM647 406h1v8h-1zM648 413h1v14h-1zM649 426h1v13h-1zM650 438h1v14h-1zM651 451h1v8h-1zM652 443h1v11h-1zM653 434h1v10h-1zM654 425h1v10h-1zM655 415h1v11h-1zM656 410h1v6h-1zM657 410h1v2h-1zM658 409h1v2h-1zM659 409h1v2h-1zM660 409h1v2h-1zM661 409h1v2h-1zM662 408h1v2h-1zM663 408h1v2h-1zM664 408h1v8h-1zM665 415h1v13h-1zM666 427h1v14h-1zM667 440h1v13h-1zM668 452h1v8h-1zM669 444h1v11h-1zM670 434h1v11h-1zM671 424h1v11h-1zM672 414h1v11h-1zM673 408h1v7h-1zM674 414h1v12h-1zM675 425h1v13h-1zM676 437h1v12h-1zM677 441h1v14h-1zM678 417h1v25h-1zM679 392h1v26h-1zM680 368h1v25h-1zM681 355h1v14h-1zM682 362h1v13h-1zM683 374h1v14h-1zM684 387h1v14h-1zM685 400h1v13h-1zM686 412h1v8h-1zM687 419h1v3h-1zM688 421h1v2h-1zM689 422h1v3h-1zM690 424h1v2h-1zM691 423h1v2h-1zM692 423h1v2h-1zM693 422h1v2h-1zM694 422h1v7h-1zM695 428h1v11h-1zM696 438h1v11h-1zM697 448h1v11h-1zM698 458h1v7h-1zM699 451h1v9h-1zM700 443h1v9h-1zM701 435h1v9h-1zM702 427h1v9h-1zM703 422h1v7h-1zM704 428h1v11h-1zM705 438h1v11h-1zM706 448h1v11h-1zM707 458h1v7h-1zM708 447h1v12h-1zM709 437h1v11h-1zM710 426h1v12h-1zM711 420h1v7h-1zM712 420h1v2h-1zM713 421h1v2h-1zM714 421h1v2h-1zM715 422h1v2h-1zM716 422h1v6h-1zM717 427h1v10h-1zM718 436h1v10h-1zM719 445h1v10h-1zM720 454h1v6h-1zM721 445h1v10h-1zM722 436h1v10h-1zM723 427h1v10h-1zM724 422h1v6h-1zM725 426h1v9h-1zM726 434h1v9h-1zM727 442h1v9h-1zM728 450h1v5h-1zM729 453h1v2h-1zM730 454h1v2h-1zM731 454h1v2h-1zM732 455h1v2h-1zM733 455h1v2h-1zM734 454h1v2h-1zM735 453h1v2h-1zM736 453h1v2h-1zM737 449h1v5h-1zM738 443h1v7h-1zM739 437h1v7h-1zM740 431h1v7h-1zM741 427h1v5h-1zM742 425h1v3h-1zM743 423h1v3h-1zM744 421h1v3h-1zM745 420h1v2h-1zM746 421h1v2h-1zM747 422h1v2h-1zM748 422h1v2h-1zM749 423h1v2h-1zM750 423h1v3h-1zM751 420h1v4h-1zM752 416h1v5h-1zM753 413h1v4h-1zM754 411h1v7h-1zM755 417h1v12h-1zM756 428h1v13h-1zM757 440h1v12h-1zM758 451h1v7h-1zM759 448h1v7h-1zM760 442h1v7h-1zM761 436h1v7h-1zM762 430h1v7h-1zM763 427h1v4h-1zM764 427h1v2h-1zM765 427h1v2h-1zM766 427h1v2h-1zM767 427h1v6h-1zM768 432h1v10h-1zM769 441h1v10h-1zM770 450h1v10h-1zM771 459h1v6h-1zM772 450h1v10h-1zM773 441h1v10h-1zM774 432h1v10h-1zM775 427h1v6h-1zM776 431h1v8h-1zM777 438h1v8h-1zM778 445h1v8h-1zM779 452h1v8h-1zM780 459h1v5h-1zM781 462h1v2h-1zM782 462h1v2h-1zM783 462h1v2h-1zM784 458h1v6h-1zM785 449h1v10h-1zM786 441h1v9h-1zM787 432h1v10h-1zM788 427h1v6h-1zM789 426h1v2h-1zM790 425h1v2h-1zM791 425h1v2h-1zM792 424h1v2h-1zM793 423h1v2h-1zM794 424h1v3h-1zM795 426h1v3h-1zM796 428h1v3h-1zM797 430h1v6h-1zM798 435h1v9h-1zM799 443h1v10h-1zM800 452h1v9h-1zM801 460h1v6h-1zM802 464h1v2h-1zM803 463h1v2h-1zM804 463h1v2h-1zM805 463h1v2h-1zM806 463h1v2h-1zM807 463h1v2h-1zM808 464h1v2h-1zM809 464h1v2h-1zM810 460h1v6h-1zM811 451h1v10h-1zM812 443h1v9h-1zM813 434h1v10h-1zM814 429h1v6h-1zM815 428h1v2h-1zM816 427h1v2h-1zM817 427h1v2h-1zM818 426h1v3h-1zM819 428h1v5h-1zM820 432h1v4h-1zM821 435h1v4h-1zM822 438h1v5h-1zM823 442h1v3h-1z"/>
<path fill="#000000" shape-rendering="crispEdges" d="M71 455h1v7h-1zM72 449h1v7h-1zM73 443h1v7h-1zM74 439h1v5h-1zM75 442h1v6h-1zM76 447h1v6h-1zM77 452h1v6h-1zM78 456h1v5h-1zM79 450h1v7h-1zM80 443h1v8h-1zM81 437h1v7h-1zM82 432h1v6h-1zM83 429h1v4h-1zM84 426h1v4h-1zM85 423h1v4h-1zM86 421h1v3h-1zM87 418h1v4h-1zM88 415h1v4h-1zM89 412h1v4h-1zM90 409h1v4h-1zM91 407h1v3h-1zM92 408h1v3h-1zM93 410h1v3h-1zM94 412h1v3h-1zM95 414h1v2h-1zM96 413h1v2h-1zM97 412h1v2h-1zM98 412h1v2h-1zM99 411h1v3h-1zM100 413h1v3h-1zM101 415h1v4h-1zM102 418h1v3h-1zM103 420h1v4h-1zM104 423h1v4h-1zM105 426h1v3h-1zM106 428h1v4h-1zM107 431h1v3h-1zM108 433h1v3h-1zM109 431h1v3h-1zM110 429h1v3h-1zM111 427h1v3h-1zM112 425h1v3h-1zM113 422h1v4h-1zM114 420h1v3h-1zM115 418h1v3h-1zM116 416h1v3h-1zM117 414h1v6h-1zM118 419h1v9h-1zM119 427h1v10h-1zM120 436h1v9h-1zM121 444h1v6h-1zM122 434h1v11h-1zM123 425h1v10h-1zM124 415h1v11h-1zM125 410h1v6h-1zM126 415h1v10h-1zM127 424h1v9h-1zM128 432h1v10h-1zM129 441h1v6h-1zM130 437h1v7h-1zM131 431h1v7h-1zM132 425h1v7h-1zM133 419h1v7h-1zM134 413h1v7h-1zM135 407h1v7h-1zM136 401h1v7h-1zM137 395h1v7h-1zM138 392h1v9h-1zM139 400h1v15h-1zM140 414h1v16h-1zM141 429h1v15h-1zM142 443h1v9h-1zM143 449h1v2h-1zM144 448h1v2h-1zM145 446h1v3h-1zM146 445h1v2h-1zM147 444h1v2h-1zM148 444h1v2h-1zM149 444h1v2h-1zM150 444h1v2h-1zM151 444h1v2h-1zM152 444h1v2h-1zM153 444h1v2h-1zM154 444h1v2h-1zM155 444h1v2h-1zM156 445h1v3h-1zM157 447h1v2h-1zM158 448h1v3h-1zM159 450h1v2h-1zM160 450h1v2h-1zM161 449h1v2h-1zM162 449h1v2h-1zM163 448h1v2h-1zM164 447h1v3h-1zM165 444h1v4h-1zM166 441h1v4h-1zM167 438h1v4h-1zM168 436h1v4h-1zM169 439h1v6h-1zM170 444h1v6h-1zM171 449h1v6h-1zM172 454h1v4h-1zM173 453h1v3h-1zM174 451h1v3h-1zM175 449h1v3h-1zM176 447h1v3h-1zM177 444h1v4h-1zM178 442h1v3h-1zM179 440h1v3h-1zM180 438h1v3h-1zM181 436h1v3h-1zM182 438h1v5h-1zM183 442h1v4h-1zM184 445h1v5h-1zM185 449h1v3h-1zM186 450h1v2h-1zM187 450h1v2h-1zM188 450h1v2h-1zM189 448h1v4h-1zM190 444h1v5h-1zM191 439h1v6h-1zM192 434h1v6h-1zM193 430h1v5h-1zM194 425h1v6h-1zM195 420h1v6h-1zM196 416h1v5h-1zM197 411h1v6h-1zM198 408h1v4h-1zM199 410h1v5h-1zM200 414h1v4h-1zM201 417h1v5h-1zM202 421h1v3h-1zM203 419h1v3h-1zM204 416h1v4h-1zM205 414h1v3h-1zM206 412h1v3h-1zM207 409h1v4h-1zM208 407h1v3h-1zM209 404h1v4h-1zM210 402h1v3h-1zM211 400h1v4h-1zM212 403h1v7h-1zM213 409h1v7h-1zM214 415h1v7h-1zM215 421h1v7h-1zM216 427h1v7h-1zM217 433h1v7h-1zM218 439h1v7h-1zM219 445h1v5h-1zM220 447h1v2h-1zM221 447h1v2h-1zM222 446h1v2h-1zM223 446h1v2h-1zM224 445h1v4h-1zM225 448h1v5h-1zM226 452h1v6h-1zM227 457h1v5h-1zM228 461h1v4h-1zM229 458h1v5h-1zM230 454h1v5h-1zM231 450h1v5h-1zM232 448h1v3h-1zM233 449h1v2h-1zM234 450h1v2h-1zM235 450h1v2h-1zM236 451h1v2h-1zM237 452h1v2h-1zM238 453h1v2h-1zM239 453h1v2h-1zM240 454h1v2h-1zM241 455h1v3h-1zM242 457h1v3h-1zM243 459h1v3h-1zM244 461h1v3h-1zM245 461h1v5h-1zM246 454h1v8h-1zM247 448h1v7h-1zM248 441h1v8h-1zM249 432h1v10h-1zM250 420h1v13h-1zM251 409h1v12h-1zM252 397h1v13h-1zM253 391h1v7h-1zM254 390h1v2h-1zM255 389h1v2h-1zM256 388h1v2h-1zM257 387h1v2h-1zM258 386h1v5h-1zM259 390h1v8h-1zM260 397h1v8h-1zM261 404h1v8h-1zM262 411h1v5h-1zM263 415h1v3h-1zM264 417h1v3h-1zM265 419h1v3h-1zM266 421h1v3h-1zM267 423h1v3h-1zM268 425h1v3h-1zM269 427h1v3h-1zM270 429h1v3h-1zM271 431h1v5h-1zM272 435h1v7h-1zM273 441h1v7h-1zM274 447h1v7h-1zM275 453h1v5h-1zM276 450h1v5h-1zM277 446h1v5h-1zM278 442h1v5h-1zM279 439h1v4h-1zM280 440h1v3h-1zM281 442h1v2h-1zM282 443h1v3h-1zM283 445h1v2h-1zM284 445h1v2h-1zM285 444h1v2h-1zM286 444h1v2h-1zM287 443h1v2h-1zM288 443h1v2h-1zM289 443h1v2h-1zM290 444h1v2h-1zM291 444h1v2h-1zM292 443h1v3h-1zM293 439h1v5h-1zM294 435h1v5h-1zM295 431h1v5h-1zM296 429h1v3h-1zM297 430h1v2h-1zM298 431h1v2h-1zM299 432h1v3h-1zM300 434h1v2h-1zM301 435h1v2h-1zM302 436h1v2h-1zM303 437h1v2h-1zM304 437h1v2h-1zM305 438h1v2h-1zM306 437h1v2h-1zM307 436h1v2h-1zM308 436h1v2h-1zM309 433h1v4h-1zM310 427h1v7h-1zM311 421h1v7h-1zM312 415h1v7h-1zM313 411h1v5h-1zM314 409h1v3h-1zM315 408h1v2h-1zM316 407h1v2h-1zM317 405h1v3h-1zM318 404h1v6h-1zM319 409h1v10h-1zM320 418h1v11h-1zM321 428h1v10h-1zM322 437h1v6h-1zM323 427h1v11h-1zM324 417h1v11h-1zM325 407h1v11h-1zM326 401h1v7h-1zM327 405h1v8h-1zM328 412h1v9h-1zM329 420h1v8h-1zM330 427h1v5h-1zM331 420h1v8h-1zM332 413h1v8h-1zM333 406h1v8h-1zM334 399h1v8h-1zM335 393h1v7h-1zM336 387h1v7h-1zM337 382h1v6h-1zM338 376h1v7h-1zM339 373h1v4h-1zM340 373h1v2h-1zM341 374h1v2h-1zM342 374h1v2h-1zM343 374h1v5h-1zM344 378h1v8h-1zM345 385h1v8h-1zM346 392h1v8h-1zM347 399h1v8h-1zM348 406h1v7h-1zM349 412h1v7h-1zM350 418h1v7h-1zM351 424h1v7h-1zM352 430h1v8h-1zM353 437h1v7h-1zM354 443h1v8h-1zM355 450h1v7h-1zM356 456h1v5h-1zM357 458h1v2h-1zM358 458h1v2h-1zM359 457h1v2h-1zM360 457h1v2h-1zM361 458h1v2h-1zM362 459h1v2h-1zM363 460h1v2h-1zM364 461h1v2h-1zM365 462h1v2h-1zM366 463h1v2h-1zM367 463h1v2h-1zM368 464h1v2h-1zM369 464h1v2h-1zM370 464h1v2h-1zM371 463h1v2h-1zM372 463h1v2h-1zM373 463h1v2h-1zM374 463h1v2h-1zM375 463h1v2h-1zM376 464h1v2h-1zM377 464h1v2h-1zM378 464h1v2h-1zM379 463h1v2h-1zM380 462h1v2h-1zM381 461h1v2h-1zM382 460h1v2h-1zM383 459h1v2h-1zM384 458h1v2h-1zM385 457h1v2h-1zM386 456h1v2h-1zM387 457h1v3h-1zM388 459h1v3h-1zM389 461h1v3h-1zM390 463h1v2h-1zM391 463h1v2h-1zM392 463h1v2h-1zM393 464h1v2h-1zM394 464h1v2h-1zM395 464h1v2h-1zM396 464h1v2h-1zM397 464h1v2h-1zM398 464h1v2h-1zM399 464h1v2h-1zM400 464h1v2h-1zM401 464h1v2h-1zM402 464h1v2h-1zM403 464h1v2h-1zM404 463h1v2h-1zM405 462h1v2h-1zM406 461h1v2h-1zM407 460h1v2h-1zM408 460h1v2h-1zM409 461h1v2h-1zM410 461h1v2h-1zM411 462h1v2h-1zM412 462h1v2h-1zM413 461h1v2h-1zM414 461h1v2h-1zM415 460h1v2h-1zM416 460h1v2h-1zM417 461h1v2h-1zM418 462h1v2h-1zM419 463h1v2h-1zM420 464h1v2h-1zM421 464h1v2h-1zM422 463h1v2h-1zM423 463h1v2h-1zM424 462h1v2h-1zM425 462h1v2h-1zM426 462h1v2h-1zM427 461h1v2h-1zM428 461h1v2h-1zM429 460h1v3h-1zM430 458h1v3h-1zM431 455h1v4h-1zM432 453h1v3h-1zM433 451h1v3h-1zM434 452h1v3h-1zM435 454h1v3h-1zM436 456h1v3h-1zM437 458h1v3h-1zM438 460h1v2h-1zM439 460h1v2h-1zM440 461h1v2h-1zM441 461h1v2h-1zM442 462h1v2h-1zM443 462h1v2h-1zM444 462h1v2h-1zM445 462h1v2h-1zM446 461h1v2h-1zM447 461h1v2h-1zM448 461h1v2h-1zM449 461h1v2h-1zM450 461h1v2h-1zM451 461h1v2h-1zM452 460h1v2h-1zM453 460h1v2h-1zM454 459h1v2h-1zM455 459h1v2h-1zM456 459h1v2h-1zM457 459h1v2h-1zM458 459h1v2h-1zM459 459h1v2h-1zM460 457h1v3h-1zM461 456h1v2h-1zM462 454h1v3h-1zM463 453h1v2h-1zM464 453h1v2h-1zM465 454h1v2h-1zM466 454h1v2h-1zM467 454h1v2h-1zM468 455h1v2h-1zM469 455h1v2h-1zM470 455h1v2h-1zM471 456h1v2h-1zM472 455h1v3h-1zM473 453h1v3h-1zM474 451h1v3h-1zM475 449h1v3h-1zM476 447h1v3h-1zM477 449h1v5h-1zM478 453h1v4h-1zM479 456h1v5h-1zM480 460h1v3h-1zM481 461h1v2h-1zM482 461h1v2h-1zM483 460h1v2h-1zM484 460h1v2h-1zM485 460h1v2h-1zM486 460h1v2h-1zM487 459h1v2h-1zM488 459h1v2h-1zM489 459h1v2h-1zM490 460h1v2h-1zM491 460h1v2h-1zM492 461h1v2h-1zM493 460h1v3h-1zM494 458h1v3h-1zM495 455h1v4h-1zM496 453h1v3h-1zM497 451h1v3h-1zM498 451h1v2h-1zM499 451h1v2h-1zM500 451h1v2h-1zM501 451h1v2h-1zM502 451h1v2h-1zM503 452h1v3h-1zM504 454h1v3h-1zM505 456h1v3h-1zM506 458h1v3h-1zM507 459h1v2h-1zM508 460h1v2h-1zM509 460h1v2h-1zM510 460h1v2h-1zM511 461h1v2h-1zM512 462h1v2h-1zM513 463h1v2h-1zM514 463h1v3h-1zM515 461h1v3h-1zM516 458h1v4h-1zM517 455h1v4h-1zM518 453h1v3h-1zM519 451h1v3h-1zM520 453h1v3h-1zM521 455h1v4h-1zM522 458h1v3h-1zM523 460h1v3h-1zM524 461h1v2h-1zM525 461h1v2h-1zM526 461h1v2h-1zM527 461h1v2h-1zM528 461h1v2h-1zM529 461h1v2h-1zM530 461h1v2h-1zM531 461h1v2h-1zM532 461h1v2h-1zM533 459h1v3h-1zM534 458h1v2h-1zM535 456h1v3h-1zM536 455h1v2h-1zM537 453h1v3h-1zM538 452h1v2h-1zM539 450h1v3h-1zM540 449h1v3h-1zM541 451h1v3h-1zM542 453h1v3h-1zM543 455h1v3h-1zM544 457h1v3h-1zM545 459h1v2h-1zM546 459h1v2h-1zM547 460h1v2h-1zM548 460h1v2h-1zM549 461h1v2h-1zM550 461h1v2h-1zM551 461h1v2h-1zM552 461h1v2h-1zM553 461h1v2h-1zM554 460h1v2h-1zM555 460h1v2h-1zM556 459h1v2h-1zM557 458h1v3h-1zM558 455h1v4h-1zM559 452h1v4h-1zM560 449h1v4h-1zM561 446h1v4h-1zM562 444h1v3h-1zM563 446h1v3h-1zM564 448h1v3h-1zM565 450h1v3h-1zM566 452h1v3h-1zM567 452h1v2h-1zM568 450h1v3h-1zM569 449h1v2h-1zM570 448h1v3h-1zM571 450h1v4h-1zM572 453h1v3h-1zM573 455h1v4h-1zM574 455h1v6h-1zM575 447h1v9h-1zM576 439h1v9h-1zM577 430h1v10h-1zM578 422h1v9h-1zM579 417h1v6h-1zM580 420h1v6h-1zM581 425h1v6h-1zM582 430h1v6h-1zM583 435h1v4h-1zM584 438h1v3h-1zM585 440h1v2h-1zM586 441h1v2h-1zM587 442h1v3h-1zM588 444h1v2h-1zM589 445h1v2h-1zM590 446h1v3h-1zM591 448h1v3h-1zM592 450h1v4h-1zM593 453h1v4h-1zM594 456h1v5h-1zM595 460h1v4h-1zM596 463h1v3h-1zM597 464h1v2h-1zM598 464h1v2h-1zM599 464h1v2h-1zM600 460h1v6h-1zM601 452h1v9h-1zM602 444h1v9h-1zM603 436h1v9h-1zM604 431h1v6h-1zM605 433h1v5h-1zM606 437h1v4h-1zM607 440h1v5h-1zM608 444h1v5h-1zM609 448h1v3h-1zM610 446h1v3h-1zM611 443h1v4h-1zM612 441h1v3h-1zM613 439h1v3h-1zM614 441h1v5h-1zM615 445h1v5h-1zM616 449h1v5h-1zM617 453h1v3h-1zM618 451h1v3h-1zM619 449h1v3h-1zM620 446h1v4h-1zM621 444h1v3h-1zM622 442h1v3h-1zM623 439h1v4h-1zM624 437h1v3h-1zM625 435h1v3h-1zM626 433h1v3h-1zM627 435h1v5h-1zM628 439h1v5h-1zM629 443h1v5h-1zM630 447h1v4h-1zM631 449h1v2h-1zM632 448h1v2h-1zM633 448h1v2h-1zM634 448h1v2h-1zM635 449h1v2h-1zM636 450h1v2h-1zM637 451h1v3h-1zM638 453h1v2h-1zM639 452h1v4h-1zM640 447h1v6h-1zM641 441h1v7h-1zM642 436h1v6h-1zM643 433h1v5h-1zM644 437h1v8h-1zM645 444h1v9h-1zM646 452h1v8h-1zM647 459h1v5h-1zM648 462h1v2h-1zM649 462h1v2h-1zM650 462h1v2h-1zM651 462h1v2h-1zM652 461h1v2h-1zM653 461h1v2h-1zM654 461h1v2h-1zM655 461h1v2h-1zM656 460h1v3h-1zM657 456h1v5h-1zM658 453h1v4h-1zM659 449h1v5h-1zM660 447h1v3h-1zM661 446h1v2h-1zM662 444h1v3h-1zM663 443h1v2h-1zM664 442h1v4h-1zM665 445h1v5h-1zM666 449h1v5h-1zM667 453h1v5h-1zM668 457h1v4h-1zM669 459h1v2h-1zM670 460h1v2h-1zM671 460h1v2h-1zM672 461h1v2h-1zM673 460h1v3h-1zM674 458h1v3h-1zM675 456h1v3h-1zM676 454h1v3h-1zM677 452h1v3h-1zM678 451h1v2h-1zM679 450h1v2h-1zM680 450h1v2h-1zM681 448h1v3h-1zM682 446h1v3h-1zM683 443h1v4h-1zM684 440h1v4h-1zM685 438h1v3h-1zM686 436h1v4h-1zM687 439h1v6h-1zM688 444h1v5h-1zM689 448h1v6h-1zM690 453h1v4h-1zM691 453h1v3h-1zM692 451h1v3h-1zM693 449h1v3h-1zM694 447h1v4h-1zM695 450h1v5h-1zM696 454h1v5h-1zM697 458h1v5h-1zM698 462h1v4h-1zM699 464h1v2h-1zM700 464h1v2h-1zM701 463h1v2h-1zM702 463h1v2h-1zM703 463h1v2h-1zM704 463h1v2h-1zM705 464h1v2h-1zM706 464h1v2h-1zM707 464h1v2h-1zM708 463h1v2h-1zM709 462h1v2h-1zM710 462h1v2h-1zM711 461h1v2h-1zM712 461h1v2h-1zM713 460h1v2h-1zM714 460h1v2h-1zM715 459h1v2h-1zM716 459h1v2h-1zM717 460h1v2h-1zM718 461h1v2h-1zM719 462h1v2h-1zM720 461h1v4h-1zM721 456h1v6h-1zM722 450h1v7h-1zM723 445h1v6h-1zM724 442h1v4h-1zM725 444h1v4h-1zM726 447h1v3h-1zM727 449h1v4h-1zM728 452h1v3h-1zM729 453h1v2h-1zM730 454h1v2h-1zM731 454h1v2h-1zM732 455h1v2h-1zM733 455h1v2h-1zM734 454h1v2h-1zM735 453h1v2h-1zM736 453h1v2h-1zM737 452h1v2h-1zM738 451h1v2h-1zM739 450h1v2h-1zM740 450h1v2h-1zM741 449h1v2h-1zM742 450h1v3h-1zM743 452h1v3h-1zM744 454h1v3h-1zM745 456h1v3h-1zM746 457h1v2h-1zM747 456h1v2h-1zM748 456h1v2h-1zM749 455h1v2h-1zM750 455h1v2h-1zM751 455h1v2h-1zM752 455h1v2h-1zM753 455h1v2h-1zM754 455h1v2h-1zM755 456h1v2h-1zM756 457h1v2h-1zM757 457h1v2h-1zM758 458h1v2h-1zM759 456h1v3h-1zM760 455h1v2h-1zM761 454h1v2h-1zM762 452h1v3h-1zM763 451h1v3h-1zM764 453h1v3h-1zM765 455h1v3h-1zM766 457h1v3h-1zM767 459h1v3h-1zM768 461h1v2h-1zM769 462h1v2h-1zM770 463h1v2h-1zM771 464h1v2h-1zM772 463h1v2h-1zM773 461h1v3h-1zM774 460h1v2h-1zM775 459h1v2h-1zM776 460h1v2h-1zM777 461h1v2h-1zM778 461h1v2h-1zM779 462h1v2h-1zM780 463h1v2h-1zM781 463h1v2h-1zM782 463h1v2h-1zM783 463h1v2h-1zM784 462h1v3h-1zM785 460h1v3h-1zM786 458h1v3h-1zM787 456h1v3h-1zM788 454h1v3h-1zM789 454h1v2h-1zM790 454h1v2h-1zM791 454h1v2h-1zM792 454h1v2h-1zM793 454h1v2h-1zM794 455h1v3h-1zM795 457h1v2h-1zM796 458h1v3h-1zM797 460h1v2h-1zM798 461h1v2h-1zM799 462h1v2h-1zM800 463h1v2h-1zM801 464h1v2h-1zM802 464h1v2h-1zM803 463h1v2h-1zM804 463h1v2h-1zM805 463h1v2h-1zM806 463h1v2h-1zM807 463h1v2h-1zM808 464h1v2h-1zM809 464h1v2h-1zM810 464h1v2h-1zM811 462h1v3h-1zM812 460h1v3h-1zM813 458h1v3h-1zM814 456h1v3h-1zM815 456h1v2h-1zM816 455h1v2h-1zM817 455h1v2h-1zM818 454h1v3h-1zM819 452h1v3h-1zM820 450h1v3h-1zM821 447h1v4h-1zM822 445h1v3h-1zM823 443h1v3h-1z"/>
<g shape-rendering="crispEdges">
<rect x="71" y="0" width="1" height="111" fill="#339933"/>
<rect x="28" y="50" width="1" height="417" fill="#339933"/>
<rect x="50" y="50" width="1" height="417" fill="#9400d3"/>
<rect x="70" y="50" width="1" height="61" fill="#ff0000"/>
<rect x="70" y="111" width="1" height="111" fill="#339933"/>
<rect x="70" y="222" width="1" height="244" fill="#ff0000"/>
<rect x="843" y="50" width="1" height="417" fill="#000000"/>
<rect x="860" y="50" width="1" height="417" fill="#00bfff"/>
<rect x="875" y="50" width="1" height="417" fill="#ff8000"/>
<rect x="71" y="465" width="753" height="1" fill="#000000"/>
<rect x="71" y="466" width="753" height="1" fill="#00bfff"/>
<rect x="26" y="65" width="4" height="1" fill="#339933"/>
<rect x="26" y="88" width="4" height="1" fill="#339933"/>
<rect x="26" y="112" width="4" height="1" fill="#339933"/>
<rect x="26" y="135" width="4" height="1" fill="#339933"/>
<rect x="26" y="159" width="4" height="1" fill="#339933"/>
<rect x="26" y="182" width="4" height="1" fill="#339933"/>
<rect x="26" y="206" width="4" height="1" fill="#339933"/>
<rect x="26" y="229" width="4" height="1" fill="#339933"/>
<rect x="26" y="253" width="4" height="1" fill="#339933"/>
<rect x="26" y="276" width="4" height="1" fill="#339933"/>
<rect x="26" y="300" width="4" height="1" fill="#339933"/>
<rect x="26" y="323" width="4" height="1" fill="#339933"/>
<rect x="26" y="347" width="4" height="1" fill="#339933"/>
<rect x="26" y="370" width="4" height="1" fill="#339933"/>
<rect x="26" y="394" width="4" height="1" fill="#339933"/>
<rect x="26" y="417" width="4" height="1" fill="#339933"/>
<rect x="26" y="441" width="4" height="1" fill="#339933"/>
<rect x="26" y="465" width="4" height="1" fill="#339933"/>
<rect x="48" y="65" width="4" height="1" fill="#9400d3"/>
<rect x="48" y="105" width="4" height="1" fill="#9400d3"/>
<rect x="48" y="145" width="4" height="1" fill="#9400d3"/>
<rect x="48" y="185" width="4" height="1" fill="#9400d3"/>
<rect x="48" y="225" width="4" height="1" fill="#9400d3"/>
<rect x="48" y="265" width="4" height="1" fill="#9400d3"/>
<rect x="48" y="305" width="4" height="1" fill="#9400d3"/>
<rect x="48" y="345" width="4" height="1" fill="#9400d3"/>
<rect x="48" y="385" width="4" height="1" fill="#9400d3"/>
<rect x="48" y="425" width="4" height="1" fill="#9400d3"/>
<rect x="48" y="465" width="4" height="1" fill="#9400d3"/>
<rect x="68" y="65" width="4" height="1" fill="#ff0000"/>
<rect x="68" y="85" width="4" height="1" fill="#ff0000"/>
<rect x="68" y="105" width="4" height="1" fill="#ff0000"/>
<rect x="68" y="125" width="4" height="1" fill="#ff0000"/>
<rect x="68" y="145" width="4" height="1" fill="#ff0000"/>
<rect x="68" y="165" width="4" height="1" fill="#ff0000"/>
<rect x="68" y="185" width="4" height="1" fill="#ff0000"/>
<rect x="68" y="205" width="4" height="1" fill="#ff0000"/>
<rect x="68" y="225" width="4" height="1" fill="#ff0000"/>
<rect x="68" y="245" width="4" height="1" fill="#ff0000"/>
<rect x="68" y="265" width="4" height="1" fill="#ff0000"/>
<rect x="68" y="285" width="4" height="1" fill="#ff0000"/>
<rect x="68" y="305" width="4" height="1" fill="#ff0000"/>
<rect x="68" y="325" width="4" height="1" fill="#ff0000"/>
<rect x="68" y="345" width="4" height="1" fill="#ff0000"/>
<rect x="68" y="365" width="4" height="1" fill="#ff0000"/>
<rect x="68" y="385" width="4" height="1" fill="#ff0000"/>
<rect x="68" y="405" width="4" height="1" fill="#ff0000"/>
<rect x="68" y="425" width="4" height="1" fill="#ff0000"/>
<rect x="68" y="445" width="4" height="1" fill="#ff0000"/>
<rect x="68" y="465" width="4" height="1" fill="#ff0000"/>
<rect x="841" y="465" width="4" height="1" fill="#000000"/>
<rect x="841" y="435" width="4" height="1" fill="#000000"/>
<rect x="841" y="405" width="4" height="1" fill="#000000"/>
<rect x="841" y="376" width="4" height="1" fill="#000000"/>
<rect x="841" y="346" width="4" height="1" fill="#000000"/>
<rect x="841" y="316" width="4" height="1" fill="#000000"/>
<rect x="841" y="287" width="4" height="1" fill="#000000"/>
<rect x="873" y="465" width="4" height="1" fill="#ff8000"/>
<rect x="873" y="449" width="4" height="1" fill="#ff8000"/>
<rect x="873" y="434" width="4" height="1" fill="#ff8000"/>
<rect x="873" y="418" width="4" height="1" fill="#ff8000"/>
<rect x="873" y="403" width="4" height="1" fill="#ff8000"/>
<rect x="873" y="387" width="4" height="1" fill="#ff8000"/>
<rect x="873" y="372" width="4" height="1" fill="#ff8000"/>
<rect x="873" y="356" width="4" height="1" fill="#ff8000"/>
<rect x="873" y="341" width="4" height="1" fill="#ff8000"/>
<rect x="873" y="325" width="4" height="1" fill="#ff8000"/>
<rect x="873" y="310" width="4" height="1" fill="#ff8000"/>
<rect x="873" y="294" width="4" height="1" fill="#ff8000"/>
<rect x="873" y="279" width="4" height="1" fill="#ff8000"/>
<rect x="858" y="465" width="4" height="1" fill="#00bfff"/>
<rect x="858" y="65" width="4" height="1" fill="#00bfff"/>
<rect x="824" y="65" width="1" height="1" fill="#666666"/>
<rect x="824" y="115" width="1" height="1" fill="#666666"/>
<rect x="824" y="165" width="1" height="1" fill="#666666"/>
<rect x="824" y="215" width="1" height="1" fill="#666666"/>
<rect x="824" y="265" width="1" height="1" fill="#666666"/>
<rect x="824" y="315" width="1" height="1" fill="#666666"/>
<rect x="824" y="365" width="1" height="1" fill="#666666"/>
<rect x="824" y="415" width="1" height="1" fill="#666666"/>
<rect x="87" y="467" width="1" height="1" fill="#000000"/>
<rect x="104" y="467" width="1" height="1" fill="#000000"/>
<rect x="121" y="467" width="1" height="1" fill="#000000"/>
<rect x="138" y="467" width="1" height="1" fill="#000000"/>
<rect x="155" y="467" width="1" height="1" fill="#000000"/>
<rect x="172" y="467" width="1" height="1" fill="#000000"/>
<rect x="189" y="467" width="1" height="1" fill="#000000"/>
<rect x="206" y="467" width="1" height="1" fill="#000000"/>
<rect x="224" y="467" width="1" height="1" fill="#000000"/>
<rect x="241" y="467" width="1" height="1" fill="#000000"/>
<rect x="258" y="467" width="1" height="1" fill="#000000"/>
<rect x="275" y="467" width="1" height="1" fill="#000000"/>
<rect x="292" y="467" width="1" height="1" fill="#000000"/>
<rect x="309" y="467" width="1" height="1" fill="#000000"/>
<rect x="326" y="467" width="1" height="1" fill="#000000"/>
<rect x="343" y="467" width="1" height="1" fill="#000000"/>
<rect x="360" y="467" width="1" height="1" fill="#000000"/>
<rect x="378" y="467" width="1" height="1" fill="#000000"/>
<rect x="395" y="467" width="1" height="1" fill="#000000"/>
<rect x="412" y="467" width="1" height="1" fill="#000000"/>
<rect x="429" y="467" width="1" height="1" fill="#000000"/>
<rect x="446" y="467" width="1" height="1" fill="#000000"/>
<rect x="463" y="467" width="1" height="1" fill="#000000"/>
<rect x="480" y="467" width="1" height="1" fill="#000000"/>
<rect x="497" y="467" width="1" height="1" fill="#000000"/>
<rect x="514" y="467" width="1" height="1" fill="#000000"/>
<rect x="532" y="467" width="1" height="1" fill="#000000"/>
<rect x="549" y="467" width="1" height="1" fill="#000000"/>
<rect x="566" y="467" width="1" height="1" fill="#000000"/>
<rect x="583" y="467" width="1" height="1" fill="#000000"/>
<rect x="600" y="467" width="1" height="1" fill="#000000"/>
<rect x="617" y="467" width="1" height="1" fill="#000000"/>
<rect x="634" y="467" width="1" height="1" fill="#000000"/>
<rect x="651" y="467" width="1" height="1" fill="#000000"/>
<rect x="668" y="467" width="1" height="1" fill="#000000"/>
<rect x="686" y="467" width="1" height="1" fill="#000000"/>
<rect x="703" y="467" width="1" height="1" fill="#000000"/>
<rect x="720" y="467" width="1" height="1" fill="#000000"/>
<rect x="737" y="467" width="1" height="1" fill="#000000"/>
<rect x="754" y="467" width="1" height="1" fill="#000000"/>
<rect x="771" y="467" width="1" height="1" fill="#000000"/>
<rect x="788" y="467" width="1" height="1" fill="#000000"/>
<rect x="805" y="467" width="1" height="1" fill="#000000"/>
<rect x="823" y="467" width="1" height="1" fill="#000000"/>
<rect x="69" y="459" width="4" height="4" fill="#666666"/>
<rect x="0" y="0" width="900" height="1" fill="#000000"/>
<rect x="0" y="499" width="900" height="1" fill="#000000"/>
<rect x="0" y="0" width="1" height="500" fill="#000000"/>
<rect x="899" y="0" width="1" height="500" fill="#000000"/>
</g>
<g shape-rendering="crispEdges">
<rect x="256" y="456" width="1" height="9" fill="#000"/>
<rect x="254" y="457" width="5" height="7" fill="#000"/>
<rect x="253" y="458" width="7" height="5" fill="#000"/>
<rect x="262" y="454" width="1" height="13" fill="#000000"/>
<rect x="261" y="455" width="1" height="1" fill="#000"/>
<rect x="263" y="455" width="1" height="1" fill="#000"/>
<rect x="260" y="456" width="1" height="1" fill="#000"/>
<rect x="264" y="456" width="1" height="1" fill="#000"/>
<rect x="546" y="456" width="1" height="9" fill="#000"/>
<rect x="544" y="457" width="5" height="7" fill="#000"/>
<rect x="543" y="458" width="7" height="5" fill="#000"/>
<rect x="540" y="454" width="1" height="13" fill="#000000"/>
<rect x="538" y="463" width="1" height="1" fill="#000"/>
<rect x="542" y="463" width="1" height="1" fill="#000"/>
<rect x="539" y="464" width="1" height="1" fill="#000"/>
<rect x="541" y="464" width="1" height="1" fill="#000"/>
</g>
<circle cx="343.5" cy="460.5" r="4" fill="#fff" stroke="#000" stroke-width="0.85"/>
<circle cx="343.5" cy="460.5" r="2.9" fill="#ffff00"/>
<circle cx="664.5" cy="460.5" r="4" fill="#fff" stroke="#000" stroke-width="0.85"/>
<circle cx="664.5" cy="460.5" r="2.9" fill="#ffff00"/>
<g opacity="0.999">
<g shape-rendering="crispEdges">
<rect x="10" y="9" width="11" height="2" fill="#ff0000"/>
<rect x="70" y="9" width="11" height="2" fill="#ff00ff"/>
<rect x="175" y="9" width="11" height="2" fill="#9400d3"/>
<rect x="235" y="9" width="11" height="2" fill="#339933"/>
<rect x="280" y="9" width="11" height="2" fill="#00bfff"/>
<rect x="335" y="9" width="11" height="2" fill="#000000"/>
<rect x="430" y="9" width="11" height="2" fill="#0000cd"/>
<rect x="510" y="9" width="11" height="2" fill="#666666"/>
</g>
<text y="12.00" class="t" fill="#000000" stroke="#000000"><tspan x="24.80" class="m">T</tspan><tspan x="29.80" class="m">e</tspan><tspan x="34.80" class="m">p</tspan><tspan x="39.80" class="m">l</tspan><tspan x="44.80" class="m">o</tspan><tspan x="49.80" class="m">t</tspan><tspan x="54.80" class="m">a</tspan></text>
<text y="12.00" class="t" fill="#000000" stroke="#000000"><tspan x="84.30" class="m">P</tspan><tspan x="89.30" class="m">ř</tspan><tspan x="94.30" class="m">í</tspan><tspan x="99.30" class="m">z</tspan><tspan x="104.30" class="m">e</tspan><tspan x="109.30" class="m">m</tspan><tspan x="114.30" class="m">n</tspan><tspan x="119.30" class="m">í</tspan><tspan x="129.30" class="m">t</tspan><tspan x="134.30" class="m">e</tspan><tspan x="139.30" class="m">p</tspan><tspan x="144.30" class="m">l</tspan><tspan x="149.30" class="m">o</tspan><tspan x="154.30" class="m">t</tspan><tspan x="159.30" class="m">a</tspan></text>
<text y="12.00" class="t" fill="#000000" stroke="#000000"><tspan x="189.30" class="m">V</tspan><tspan x="194.30" class="m">l</tspan><tspan x="199.30" class="m">h</tspan><tspan x="204.30" class="m">k</tspan><tspan x="209.30" class="m">o</tspan><tspan x="214.30" class="m">s</tspan><tspan x="219.30" class="m">t</tspan></text>
<text y="12.00" class="t" fill="#000000" stroke="#000000"><tspan x="249.30" class="m">T</tspan><tspan x="254.30" class="m">l</tspan><tspan x="259.30" class="m">a</tspan><tspan x="264.30" class="m">k</tspan></text>
<text y="12.00" class="t" fill="#000000" stroke="#000000"><tspan x="294.30" class="m">S</tspan><tspan x="299.30" class="m">r</tspan><tspan x="304.30" class="m">á</tspan><tspan x="309.30" class="m">ž</tspan><tspan x="314.30" class="m">k</tspan><tspan x="319.30" class="m">y</tspan></text>
<text y="12.00" class="t" fill="#000000" stroke="#000000"><tspan x="348.80" class="m">R</tspan><tspan x="353.80" class="m">y</tspan><tspan x="358.80" class="m">c</tspan><tspan x="363.80" class="m">h</tspan><tspan x="368.80" class="m">l</tspan><tspan x="373.80" class="m">o</tspan><tspan x="378.80" class="m">s</tspan><tspan x="383.80" class="m">t</tspan><tspan x="393.80" class="m">v</tspan><tspan x="398.80" class="m">ě</tspan><tspan x="403.80" class="m">t</tspan><tspan x="408.80" class="m">r</tspan><tspan x="413.80" class="m">u</tspan></text>
<text y="12.00" class="t" fill="#000000" stroke="#000000"><tspan x="444.30" class="m">N</tspan><tspan x="449.30" class="m">á</tspan><tspan x="454.30" class="m">r</tspan><tspan x="459.30" class="m">a</tspan><tspan x="464.30" class="m">z</tspan><tspan x="474.30" class="m">v</tspan><tspan x="479.30" class="m">ě</tspan><tspan x="484.30" class="m">t</tspan><tspan x="489.30" class="m">r</tspan><tspan x="494.30" class="m">u</tspan></text>
<text y="12.00" class="t" fill="#000000" stroke="#000000"><tspan x="523.80" class="m">S</tspan><tspan x="528.80" class="m">m</tspan><tspan x="533.80" class="m">ě</tspan><tspan x="538.80" class="m">r</tspan><tspan x="548.80" class="m">v</tspan><tspan x="553.80" class="m">ě</tspan><tspan x="558.80" class="m">t</tspan><tspan x="563.80" class="m">r</tspan><tspan x="568.80" class="m">u</tspan></text>
<text y="27.00" class="t" fill="#000000" stroke="#000000"><tspan x="79.80" class="m">m</tspan><tspan x="84.80" class="m">a</tspan><tspan x="89.80" class="m">x</tspan></text>
<text y="37.00" class="t" fill="#000000" stroke="#000000"><tspan x="79.80" class="m">m</tspan><tspan x="84.80" class="m">i</tspan><tspan x="89.80" class="m">n</tspan></text>
<text y="47.00" class="t" fill="#000000" stroke="#000000"><tspan x="79.80" class="m">a</tspan><tspan x="84.80" class="m">v</tspan><tspan x="89.80" class="m">g</tspan><tspan x="99.44" class="s">−</tspan><tspan x="105.01" class="s">2</tspan><tspan x="111.21" class="s">.</tspan><tspan x="115.01" class="s">5</tspan><tspan x="119.80" class="m">°</tspan><tspan x="124.80" class="m">C</tspan></text>
<text y="27.00" class="t" fill="#ff0000" stroke="#ff0000"><tspan x="99.44" class="s">−</tspan><tspan x="105.01" class="s">0</tspan><tspan x="111.21" class="s">.</tspan><tspan x="115.01" class="s">6</tspan><tspan x="119.80" class="m">°</tspan><tspan x="124.80" class="m">C</tspan></text>
<text y="27.00" class="t" fill="#ff0000" stroke="#ff0000"><tspan x="140.01" class="s">9</tspan><tspan x="145.01" class="s">0</tspan><tspan x="149.80" class="m">%</tspan></text>
<text y="27.00" class="t" fill="#ff0000" stroke="#ff0000"><tspan x="165.01" class="s">1</tspan><tspan x="170.01" class="s">0</tspan><tspan x="175.01" class="s">2</tspan><tspan x="180.01" class="s">5</tspan><tspan x="186.21" class="s">.</tspan><tspan x="190.01" class="s">4</tspan><tspan x="194.80" class="m">h</tspan><tspan x="199.80" class="m">P</tspan><tspan x="204.80" class="m">a</tspan></text>
<text y="27.00" class="t n" fill="#00bfff" stroke="#00bfff"><tspan x="225.51" class="s">0</tspan><tspan x="231.71" class="s">.</tspan><tspan x="235.51" class="s">0</tspan><tspan x="240.30" class="m">m</tspan><tspan x="245.30" class="m">m</tspan></text>
<text y="37.00" class="t" fill="#0000cd" stroke="#0000cd"><tspan x="99.44" class="s">−</tspan><tspan x="105.01" class="s">5</tspan><tspan x="111.21" class="s">.</tspan><tspan x="115.01" class="s">1</tspan><tspan x="119.80" class="m">°</tspan><tspan x="124.80" class="m">C</tspan></text>
<text y="37.00" class="t" fill="#0000cd" stroke="#0000cd"><tspan x="140.01" class="s">6</tspan><tspan x="145.01" class="s">0</tspan><tspan x="149.80" class="m">%</tspan></text>
<text y="37.00" class="t" fill="#0000cd" stroke="#0000cd"><tspan x="165.01" class="s">1</tspan><tspan x="170.01" class="s">0</tspan><tspan x="175.01" class="s">2</tspan><tspan x="180.01" class="s">2</tspan><tspan x="186.21" class="s">.</tspan><tspan x="190.01" class="s">7</tspan><tspan x="194.80" class="m">h</tspan><tspan x="199.80" class="m">P</tspan><tspan x="204.80" class="m">a</tspan></text>
<text y="27.00" class="t" fill="#000000" stroke="#000000"><tspan x="522.30" class="m">W</tspan><tspan x="527.30" class="m">S</tspan><tspan x="533.71" class="s">:</tspan><tspan x="537.51" class="s">6</tspan><tspan x="543.71" class="s">.</tspan><tspan x="547.51" class="s">2</tspan><tspan x="552.30" class="m">m</tspan><tspan x="557.30" class="m">/</tspan><tspan x="562.30" class="m">s</tspan></text>
<text y="27.00" class="t" fill="#000000" stroke="#000000"><tspan x="592.80" class="m">W</tspan><tspan x="597.80" class="m">G</tspan><tspan x="604.21" class="s">:</tspan><tspan x="608.01" class="s">1</tspan><tspan x="613.01" class="s">2</tspan><tspan x="619.21" class="s">.</tspan><tspan x="623.01" class="s">5</tspan><tspan x="627.80" class="m">m</tspan><tspan x="632.80" class="m">/</tspan><tspan x="637.80" class="m">s</tspan></text>
<text y="37.00" class="t" fill="#000000" stroke="#000000"><tspan x="487.80" class="m">S</tspan><tspan x="492.80" class="m">l</tspan><tspan x="497.80" class="m">u</tspan><tspan x="502.80" class="m">n</tspan><tspan x="507.80" class="m">c</tspan><tspan x="512.80" class="m">e</tspan><tspan x="522.80" class="m">V</tspan><tspan x="527.80" class="m">ý</tspan><tspan x="532.80" class="m">c</tspan><tspan x="537.80" class="m">h</tspan><tspan x="542.80" class="m">o</tspan><tspan x="547.80" class="m">d</tspan><tspan x="554.21" class="s">:</tspan><tspan x="558.01" class="s">0</tspan><tspan x="563.01" class="s">7</tspan><tspan x="569.21" class="s">:</tspan><tspan x="573.01" class="s">0</tspan><tspan x="578.01" class="s">4</tspan></text>
<text y="37.00" class="t" fill="#000000" stroke="#000000"><tspan x="592.80" class="m">Z</tspan><tspan x="597.80" class="m">á</tspan><tspan x="602.80" class="m">p</tspan><tspan x="607.80" class="m">a</tspan><tspan x="612.80" class="m">d</tspan><tspan x="619.21" class="s">:</tspan><tspan x="623.01" class="s">1</tspan><tspan x="628.01" class="s">7</tspan><tspan x="634.21" class="s">:</tspan><tspan x="638.01" class="s">3</tspan><tspan x="643.01" class="s">5</tspan></text>
<text y="47.00" class="t" fill="#000000" stroke="#000000"><tspan x="487.80" class="m">M</tspan><tspan x="492.80" class="m">ě</tspan><tspan x="497.80" class="m">s</tspan><tspan x="502.80" class="m">í</tspan><tspan x="507.80" class="m">c</tspan><tspan x="522.80" class="m">V</tspan><tspan x="527.80" class="m">ý</tspan><tspan x="532.80" class="m">c</tspan><tspan x="537.80" class="m">h</tspan><tspan x="542.80" class="m">o</tspan><tspan x="547.80" class="m">d</tspan><tspan x="554.21" class="s">:</tspan><tspan x="558.01" class="s">0</tspan><tspan x="563.01" class="s">4</tspan><tspan x="569.21" class="s">:</tspan><tspan x="573.01" class="s">5</tspan><tspan x="578.01" class="s">5</tspan></text>
<text y="47.00" class="t" fill="#000000" stroke="#000000"><tspan x="592.80" class="m">Z</tspan><tspan x="597.80" class="m">á</tspan><tspan x="602.80" class="m">p</tspan><tspan x="607.80" class="m">a</tspan><tspan x="612.80" class="m">d</tspan><tspan x="619.21" class="s">:</tspan><tspan x="623.01" class="s">1</tspan><tspan x="628.01" class="s">2</tspan><tspan x="634.21" class="s">:</tspan><tspan x="638.01" class="s">3</tspan><tspan x="643.01" class="s">8</tspan></text>
<text x="449" y="61" class="h" text-anchor="middle">20.2.2009</text>
<text y="57.00" class="t" fill="#339933" stroke="#339933"><tspan x="5.80" class="m">h</tspan><tspan x="10.80" class="m">P</tspan><tspan x="15.80" class="m">a</tspan></text>
<text y="57.00" class="t" fill="#9400d3" stroke="#9400d3"><tspan x="39.80" class="m">%</tspan></text>
<text y="57.00" class="t" fill="#ff0000" stroke="#ff0000"><tspan x="56.80" class="m">°</tspan><tspan x="61.80" class="m">C</tspan></text>
<text y="68.10" class="t" fill="#339933" stroke="#339933"><tspan x="3.01" class="s">1</tspan><tspan x="8.01" class="s">0</tspan><tspan x="13.01" class="s">3</tspan><tspan x="18.01" class="s">2</tspan></text>
<text y="91.10" class="t" fill="#339933" stroke="#339933"><tspan x="3.01" class="s">1</tspan><tspan x="8.01" class="s">0</tspan><tspan x="13.01" class="s">3</tspan><tspan x="18.01" class="s">1</tspan></text>
<text y="115.10" class="t" fill="#339933" stroke="#339933"><tspan x="3.01" class="s">1</tspan><tspan x="8.01" class="s">0</tspan><tspan x="13.01" class="s">3</tspan><tspan x="18.01" class="s">0</tspan></text>
<text y="138.10" class="t" fill="#339933" stroke="#339933"><tspan x="3.01" class="s">1</tspan><tspan x="8.01" class="s">0</tspan><tspan x="13.01" class="s">2</tspan><tspan x="18.01" class="s">9</tspan></text>
<text y="162.10" class="t" fill="#339933" stroke="#339933"><tspan x="3.01" class="s">1</tspan><tspan x="8.01" class="s">0</tspan><tspan x="13.01" class="s">2</tspan><tspan x="18.01" class="s">8</tspan></text>
<text y="185.10" class="t" fill="#339933" stroke="#339933"><tspan x="3.01" class="s">1</tspan><tspan x="8.01" class="s">0</tspan><tspan x="13.01" class="s">2</tspan><tspan x="18.01" class="s">7</tspan></text>
<text y="209.10" class="t" fill="#339933" stroke="#339933"><tspan x="3.01" class="s">1</tspan><tspan x="8.01" class="s">0</tspan><tspan x="13.01" class="s">2</tspan><tspan x="18.01" class="s">6</tspan></text>
<text y="232.10" class="t" fill="#339933" stroke="#339933"><tspan x="3.01" class="s">1</tspan><tspan x="8.01" class="s">0</tspan><tspan x="13.01" class="s">2</tspan><tspan x="18.01" class="s">5</tspan></text>
<text y="256.10" class="t" fill="#339933" stroke="#339933"><tspan x="3.01" class="s">1</tspan><tspan x="8.01" class="s">0</tspan><tspan x="13.01" class="s">2</tspan><tspan x="18.01" class="s">4</tspan></text>
<text y="279.10" class="t" fill="#339933" stroke="#339933"><tspan x="3.01" class="s">1</tspan><tspan x="8.01" class="s">0</tspan><tspan x="13.01" class="s">2</tspan><tspan x="18.01" class="s">3</tspan></text>
<text y="303.10" class="t" fill="#339933" stroke="#339933"><tspan x="3.01" class="s">1</tspan><tspan x="8.01" class="s">0</tspan><tspan x="13.01" class="s">2</tspan><tspan x="18.01" class="s">2</tspan></text>
<text y="326.10" class="t" fill="#339933" stroke="#339933"><tspan x="3.01" class="s">1</tspan><tspan x="8.01" class="s">0</tspan><tspan x="13.01" class="s">2</tspan><tspan x="18.01" class="s">1</tspan></text>
<text y="350.10" class="t" fill="#339933" stroke="#339933"><tspan x="3.01" class="s">1</tspan><tspan x="8.01" class="s">0</tspan><tspan x="13.01" class="s">2</tspan><tspan x="18.01" class="s">0</tspan></text>
<text y="373.10" class="t" fill="#339933" stroke="#339933"><tspan x="3.01" class="s">1</tspan><tspan x="8.01" class="s">0</tspan><tspan x="13.01" class="s">1</tspan><tspan x="18.01" class="s">9</tspan></text>
<text y="397.10" class="t" fill="#339933" stroke="#339933"><tspan x="3.01" class="s">1</tspan><tspan x="8.01" class="s">0</tspan><tspan x="13.01" class="s">1</tspan><tspan x="18.01" class="s">8</tspan></text>
<text y="420.10" class="t" fill="#339933" stroke="#339933"><tspan x="3.01" class="s">1</tspan><tspan x="8.01" class="s">0</tspan><tspan x="13.01" class="s">1</tspan><tspan x="18.01" class="s">7</tspan></text>
<text y="444.10" class="t" fill="#339933" stroke="#339933"><tspan x="3.01" class="s">1</tspan><tspan x="8.01" class="s">0</tspan><tspan x="13.01" class="s">1</tspan><tspan x="18.01" class="s">6</tspan></text>
<text y="468.10" class="t" fill="#339933" stroke="#339933"><tspan x="3.01" class="s">1</tspan><tspan x="8.01" class="s">0</tspan><tspan x="13.01" class="s">1</tspan><tspan x="18.01" class="s">5</tspan></text>
<text y="68.10" class="t" fill="#9400d3" stroke="#9400d3"><tspan x="30.01" class="s">1</tspan><tspan x="35.01" class="s">0</tspan><tspan x="40.01" class="s">0</tspan></text>
<text y="108.10" class="t" fill="#9400d3" stroke="#9400d3"><tspan x="35.01" class="s">9</tspan><tspan x="40.01" class="s">0</tspan></text>
<text y="148.10" class="t" fill="#9400d3" stroke="#9400d3"><tspan x="35.01" class="s">8</tspan><tspan x="40.01" class="s">0</tspan></text>
<text y="188.10" class="t" fill="#9400d3" stroke="#9400d3"><tspan x="35.01" class="s">7</tspan><tspan x="40.01" class="s">0</tspan></text>
<text y="228.10" class="t" fill="#9400d3" stroke="#9400d3"><tspan x="35.01" class="s">6</tspan><tspan x="40.01" class="s">0</tspan></text>
<text y="268.10" class="t" fill="#9400d3" stroke="#9400d3"><tspan x="35.01" class="s">5</tspan><tspan x="40.01" class="s">0</tspan></text>
<text y="308.10" class="t" fill="#9400d3" stroke="#9400d3"><tspan x="35.01" class="s">4</tspan><tspan x="40.01" class="s">0</tspan></text>
<text y="348.10" class="t" fill="#9400d3" stroke="#9400d3"><tspan x="35.01" class="s">3</tspan><tspan x="40.01" class="s">0</tspan></text>
<text y="388.10" class="t" fill="#9400d3" stroke="#9400d3"><tspan x="35.01" class="s">2</tspan><tspan x="40.01" class="s">0</tspan></text>
<text y="428.10" class="t" fill="#9400d3" stroke="#9400d3"><tspan x="35.01" class="s">1</tspan><tspan x="40.01" class="s">0</tspan></text>
<text y="468.10" class="t" fill="#9400d3" stroke="#9400d3"><tspan x="40.01" class="s">0</tspan></text>
<text y="68.10" class="t r" fill="#ff0000" stroke="#ff0000"><tspan x="62.01" class="s">4</tspan></text>
<text y="88.10" class="t r" fill="#ff0000" stroke="#ff0000"><tspan x="62.01" class="s">3</tspan></text>
<text y="108.10" class="t r" fill="#ff0000" stroke="#ff0000"><tspan x="62.01" class="s">2</tspan></text>
<text y="128.10" class="t r" fill="#ff0000" stroke="#ff0000"><tspan x="62.01" class="s">1</tspan></text>
<text y="148.10" class="t r" fill="#ff0000" stroke="#ff0000"><tspan x="62.01" class="s">0</tspan></text>
<text y="168.10" class="t r" fill="#ff0000" stroke="#ff0000"><tspan x="56.44" class="s">−</tspan><tspan x="62.01" class="s">1</tspan></text>
<text y="188.10" class="t r" fill="#ff0000" stroke="#ff0000"><tspan x="56.44" class="s">−</tspan><tspan x="62.01" class="s">2</tspan></text>
<text y="208.10" class="t r" fill="#ff0000" stroke="#ff0000"><tspan x="56.44" class="s">−</tspan><tspan x="62.01" class="s">3</tspan></text>
<text y="228.10" class="t r" fill="#ff0000" stroke="#ff0000"><tspan x="56.44" class="s">−</tspan><tspan x="62.01" class="s">4</tspan></text>
<text y="248.10" class="t r" fill="#ff0000" stroke="#ff0000"><tspan x="56.44" class="s">−</tspan><tspan x="62.01" class="s">5</tspan></text>
<text y="268.10" class="t r" fill="#ff0000" stroke="#ff0000"><tspan x="56.44" class="s">−</tspan><tspan x="62.01" class="s">6</tspan></text>
<text y="288.10" class="t r" fill="#ff0000" stroke="#ff0000"><tspan x="56.44" class="s">−</tspan><tspan x="62.01" class="s">7</tspan></text>
<text y="308.10" class="t r" fill="#ff0000" stroke="#ff0000"><tspan x="56.44" class="s">−</tspan><tspan x="62.01" class="s">8</tspan></text>
<text y="328.10" class="t r" fill="#ff0000" stroke="#ff0000"><tspan x="56.44" class="s">−</tspan><tspan x="62.01" class="s">9</tspan></text>
<text y="348.10" class="t r" fill="#ff0000" stroke="#ff0000"><tspan x="51.44" class="s">−</tspan><tspan x="57.01" class="s">1</tspan><tspan x="62.01" class="s">0</tspan></text>
<text y="368.10" class="t r" fill="#ff0000" stroke="#ff0000"><tspan x="51.44" class="s">−</tspan><tspan x="57.01" class="s">1</tspan><tspan x="62.01" class="s">1</tspan></text>
<text y="388.10" class="t r" fill="#ff0000" stroke="#ff0000"><tspan x="51.44" class="s">−</tspan><tspan x="57.01" class="s">1</tspan><tspan x="62.01" class="s">2</tspan></text>
<text y="408.10" class="t r" fill="#ff0000" stroke="#ff0000"><tspan x="51.44" class="s">−</tspan><tspan x="57.01" class="s">1</tspan><tspan x="62.01" class="s">3</tspan></text>
<text y="428.10" class="t r" fill="#ff0000" stroke="#ff0000"><tspan x="51.44" class="s">−</tspan><tspan x="57.01" class="s">1</tspan><tspan x="62.01" class="s">4</tspan></text>
<text y="448.10" class="t r" fill="#ff0000" stroke="#ff0000"><tspan x="51.44" class="s">−</tspan><tspan x="57.01" class="s">1</tspan><tspan x="62.01" class="s">5</tspan></text>
<text y="468.10" class="t r" fill="#ff0000" stroke="#ff0000"><tspan x="51.44" class="s">−</tspan><tspan x="57.01" class="s">1</tspan><tspan x="62.01" class="s">6</tspan></text>
<text y="68.10" class="t" fill="#666666" stroke="#666666"><tspan x="825.51" class="s">3</tspan><tspan x="830.51" class="s">6</tspan><tspan x="835.51" class="s">0</tspan></text>
<text y="76.00" class="t" fill="#666666" stroke="#666666"><tspan x="830.30" class="m">N</tspan></text>
<text y="118.10" class="t" fill="#666666" stroke="#666666"><tspan x="825.51" class="s">3</tspan><tspan x="830.51" class="s">1</tspan><tspan x="835.51" class="s">5</tspan></text>
<text y="126.00" class="t" fill="#666666" stroke="#666666"><tspan x="825.30" class="m">N</tspan><tspan x="830.30" class="m">W</tspan></text>
<text y="168.10" class="t" fill="#666666" stroke="#666666"><tspan x="825.51" class="s">2</tspan><tspan x="830.51" class="s">7</tspan><tspan x="835.51" class="s">0</tspan></text>
<text y="176.00" class="t" fill="#666666" stroke="#666666"><tspan x="830.30" class="m">W</tspan></text>
<text y="218.10" class="t" fill="#666666" stroke="#666666"><tspan x="825.51" class="s">2</tspan><tspan x="830.51" class="s">2</tspan><tspan x="835.51" class="s">5</tspan></text>
<text y="226.00" class="t" fill="#666666" stroke="#666666"><tspan x="825.30" class="m">S</tspan><tspan x="830.30" class="m">W</tspan></text>
<text y="268.10" class="t" fill="#666666" stroke="#666666"><tspan x="825.51" class="s">1</tspan><tspan x="830.51" class="s">8</tspan><tspan x="835.51" class="s">0</tspan></text>
<text y="276.00" class="t" fill="#666666" stroke="#666666"><tspan x="830.30" class="m">S</tspan></text>
<text y="318.10" class="t" fill="#666666" stroke="#666666"><tspan x="825.51" class="s">1</tspan><tspan x="830.51" class="s">3</tspan><tspan x="835.51" class="s">5</tspan></text>
<text y="326.00" class="t" fill="#666666" stroke="#666666"><tspan x="825.30" class="m">S</tspan><tspan x="830.30" class="m">E</tspan></text>
<text y="368.10" class="t" fill="#666666" stroke="#666666"><tspan x="825.51" class="s">9</tspan><tspan x="830.51" class="s">0</tspan></text>
<text y="376.00" class="t" fill="#666666" stroke="#666666"><tspan x="830.30" class="m">E</tspan></text>
<text y="418.10" class="t" fill="#666666" stroke="#666666"><tspan x="825.51" class="s">4</tspan><tspan x="830.51" class="s">5</tspan></text>
<text y="426.00" class="t" fill="#666666" stroke="#666666"><tspan x="825.30" class="m">N</tspan><tspan x="830.30" class="m">E</tspan></text>
<text y="56.20" class="t" fill="#666666" stroke="#666666"><tspan x="826.30" class="m">°</tspan></text>
<text y="57.00" class="t n" fill="#000000" stroke="#000000" font-style="italic"><tspan x="845.80" class="m">m</tspan><tspan x="850.80" class="m">/</tspan><tspan x="855.80" class="m">s</tspan></text>
<text y="57.00" class="t n" fill="#00bfff" stroke="#00bfff"><tspan x="862.30" class="m">m</tspan><tspan x="867.30" class="m">m</tspan></text>
<text y="57.00" class="t" fill="#ff8000" stroke="#ff8000"><tspan x="877.80" class="m">W</tspan></text>
<text y="468.10" class="t" fill="#000000" stroke="#000000"><tspan x="846.01" class="s">0</tspan></text>
<text y="438.10" class="t" fill="#000000" stroke="#000000"><tspan x="846.01" class="s">2</tspan></text>
<text y="408.10" class="t" fill="#000000" stroke="#000000"><tspan x="846.01" class="s">4</tspan></text>
<text y="379.10" class="t" fill="#000000" stroke="#000000"><tspan x="846.01" class="s">6</tspan></text>
<text y="349.10" class="t" fill="#000000" stroke="#000000"><tspan x="846.01" class="s">8</tspan></text>
<text y="319.10" class="t" fill="#000000" stroke="#000000"><tspan x="846.01" class="s">1</tspan><tspan x="851.01" class="s">0</tspan></text>
<text y="290.10" class="t" fill="#000000" stroke="#000000"><tspan x="846.01" class="s">1</tspan><tspan x="851.01" class="s">2</tspan></text>
<text y="468.10" class="t" fill="#ff8000" stroke="#ff8000"><tspan x="878.01" class="s">0</tspan></text>
<text y="452.10" class="t" fill="#ff8000" stroke="#ff8000"><tspan x="878.01" class="s">5</tspan><tspan x="883.01" class="s">4</tspan></text>
<text y="437.10" class="t" fill="#ff8000" stroke="#ff8000"><tspan x="878.01" class="s">1</tspan><tspan x="883.01" class="s">0</tspan><tspan x="888.01" class="s">8</tspan></text>
<text y="421.10" class="t" fill="#ff8000" stroke="#ff8000"><tspan x="878.01" class="s">1</tspan><tspan x="883.01" class="s">6</tspan><tspan x="888.01" class="s">2</tspan></text>
<text y="406.10" class="t" fill="#ff8000" stroke="#ff8000"><tspan x="878.01" class="s">2</tspan><tspan x="883.01" class="s">1</tspan><tspan x="888.01" class="s">6</tspan></text>
<text y="390.10" class="t" fill="#ff8000" stroke="#ff8000"><tspan x="878.01" class="s">2</tspan><tspan x="883.01" class="s">7</tspan><tspan x="888.01" class="s">0</tspan></text>
<text y="375.10" class="t" fill="#ff8000" stroke="#ff8000"><tspan x="878.01" class="s">3</tspan><tspan x="883.01" class="s">2</tspan><tspan x="888.01" class="s">4</tspan></text>
<text y="359.10" class="t" fill="#ff8000" stroke="#ff8000"><tspan x="878.01" class="s">3</tspan><tspan x="883.01" class="s">7</tspan><tspan x="888.01" class="s">8</tspan></text>
<text y="344.10" class="t" fill="#ff8000" stroke="#ff8000"><tspan x="878.01" class="s">4</tspan><tspan x="883.01" class="s">3</tspan><tspan x="888.01" class="s">2</tspan></text>
<text y="328.10" class="t" fill="#ff8000" stroke="#ff8000"><tspan x="878.01" class="s">4</tspan><tspan x="883.01" class="s">8</tspan><tspan x="888.01" class="s">6</tspan></text>
<text y="313.10" class="t" fill="#ff8000" stroke="#ff8000"><tspan x="878.01" class="s">5</tspan><tspan x="883.01" class="s">4</tspan><tspan x="888.01" class="s">0</tspan></text>
<text y="297.10" class="t" fill="#ff8000" stroke="#ff8000"><tspan x="878.01" class="s">5</tspan><tspan x="883.01" class="s">9</tspan><tspan x="888.01" class="s">4</tspan></text>
<text y="282.10" class="t" fill="#ff8000" stroke="#ff8000"><tspan x="878.01" class="s">6</tspan><tspan x="883.01" class="s">4</tspan><tspan x="888.01" class="s">8</tspan></text>
<text y="468.10" class="t" fill="#00bfff" stroke="#00bfff"><tspan x="863.51" class="s">0</tspan></text>
<text y="68.10" class="t" fill="#00bfff" stroke="#00bfff"><tspan x="863.51" class="s">1</tspan></text>
<text y="476.70" class="t" fill="#000000" stroke="#000000" font-style="italic"><tspan x="832.30" class="m">č</tspan><tspan x="837.30" class="m">a</tspan><tspan x="842.30" class="m">s</tspan></text>
<text transform="translate(73.0,497) rotate(-90)" class="t b" fill="#000" stroke="#000"><tspan x="0.01" class="s">0</tspan><tspan x="5.01" class="s">0</tspan><tspan x="11.21" class="s">:</tspan><tspan x="15.01" class="s">0</tspan><tspan x="20.01" class="s">0</tspan></text>
<text transform="translate(90.0,497) rotate(-90)" class="t b" fill="#000" stroke="#000"><tspan x="0.01" class="s">0</tspan><tspan x="5.01" class="s">0</tspan><tspan x="11.21" class="s">:</tspan><tspan x="15.01" class="s">3</tspan><tspan x="20.01" class="s">0</tspan></text>
<text transform="translate(107.0,497) rotate(-90)" class="t b" fill="#000" stroke="#000"><tspan x="0.01" class="s">0</tspan><tspan x="5.01" class="s">0</tspan><tspan x="11.21" class="s">:</tspan><tspan x="15.01" class="s">5</tspan><tspan x="20.01" class="s">5</tspan></text>
<text transform="translate(124.0,497) rotate(-90)" class="t b" fill="#000" stroke="#000"><tspan x="0.01" class="s">0</tspan><tspan x="5.01" class="s">1</tspan><tspan x="11.21" class="s">:</tspan><tspan x="15.01" class="s">2</tspan><tspan x="20.01" class="s">0</tspan></text>
<text transform="translate(141.0,497) rotate(-90)" class="t b" fill="#000" stroke="#000"><tspan x="0.01" class="s">0</tspan><tspan x="5.01" class="s">1</tspan><tspan x="11.21" class="s">:</tspan><tspan x="15.01" class="s">4</tspan><tspan x="20.01" class="s">5</tspan></text>
<text transform="translate(158.0,497) rotate(-90)" class="t b" fill="#000" stroke="#000"><tspan x="0.01" class="s">0</tspan><tspan x="5.01" class="s">2</tspan><tspan x="11.21" class="s">:</tspan><tspan x="15.01" class="s">1</tspan><tspan x="20.01" class="s">0</tspan></text>
<text transform="translate(175.0,497) rotate(-90)" class="t b" fill="#000" stroke="#000"><tspan x="0.01" class="s">0</tspan><tspan x="5.01" class="s">2</tspan><tspan x="11.21" class="s">:</tspan><tspan x="15.01" class="s">3</tspan><tspan x="20.01" class="s">0</tspan></text>
<text transform="translate(192.0,497) rotate(-90)" class="t b" fill="#000" stroke="#000"><tspan x="0.01" class="s">0</tspan><tspan x="5.01" class="s">2</tspan><tspan x="11.21" class="s">:</tspan><tspan x="15.01" class="s">5</tspan><tspan x="20.01" class="s">5</tspan></text>
<text transform="translate(209.0,497) rotate(-90)" class="t b" fill="#000" stroke="#000"><tspan x="0.01" class="s">0</tspan><tspan x="5.01" class="s">3</tspan><tspan x="11.21" class="s">:</tspan><tspan x="15.01" class="s">2</tspan><tspan x="20.01" class="s">0</tspan></text>
<text transform="translate(227.0,497) rotate(-90)" class="t b" fill="#000" stroke="#000"><tspan x="0.01" class="s">0</tspan><tspan x="5.01" class="s">3</tspan><tspan x="11.21" class="s">:</tspan><tspan x="15.01" class="s">4</tspan><tspan x="20.01" class="s">5</tspan></text>
<text transform="translate(244.0,497) rotate(-90)" class="t b" fill="#000" stroke="#000"><tspan x="0.01" class="s">0</tspan><tspan x="5.01" class="s">4</tspan><tspan x="11.21" class="s">:</tspan><tspan x="15.01" class="s">1</tspan><tspan x="20.01" class="s">0</tspan></text>
<text transform="translate(261.0,497) rotate(-90)" class="t b" fill="#000" stroke="#000"><tspan x="0.01" class="s">0</tspan><tspan x="5.01" class="s">4</tspan><tspan x="11.21" class="s">:</tspan><tspan x="15.01" class="s">5</tspan><tspan x="20.01" class="s">0</tspan></text>
<text transform="translate(278.0,497) rotate(-90)" class="t b" fill="#000" stroke="#000"><tspan x="0.01" class="s">0</tspan><tspan x="5.01" class="s">5</tspan><tspan x="11.21" class="s">:</tspan><tspan x="15.01" class="s">2</tspan><tspan x="20.01" class="s">0</tspan></text>
<text transform="translate(295.0,497) rotate(-90)" class="t b" fill="#000" stroke="#000"><tspan x="0.01" class="s">0</tspan><tspan x="5.01" class="s">5</tspan><tspan x="11.21" class="s">:</tspan><tspan x="15.01" class="s">5</tspan><tspan x="20.01" class="s">0</tspan></text>
<text transform="translate(312.0,497) rotate(-90)" class="t b" fill="#000" stroke="#000"><tspan x="0.01" class="s">0</tspan><tspan x="5.01" class="s">6</tspan><tspan x="11.21" class="s">:</tspan><tspan x="15.01" class="s">1</tspan><tspan x="20.01" class="s">5</tspan></text>
<text transform="translate(329.0,497) rotate(-90)" class="t b" fill="#000" stroke="#000"><tspan x="0.01" class="s">0</tspan><tspan x="5.01" class="s">6</tspan><tspan x="11.21" class="s">:</tspan><tspan x="15.01" class="s">3</tspan><tspan x="20.01" class="s">5</tspan></text>
<text transform="translate(346.0,497) rotate(-90)" class="t b" fill="#000" stroke="#000"><tspan x="0.01" class="s">0</tspan><tspan x="5.01" class="s">7</tspan><tspan x="11.21" class="s">:</tspan><tspan x="15.01" class="s">0</tspan><tspan x="20.01" class="s">0</tspan></text>
<text transform="translate(363.0,497) rotate(-90)" class="t b" fill="#000" stroke="#000"><tspan x="0.01" class="s">0</tspan><tspan x="5.01" class="s">7</tspan><tspan x="11.21" class="s">:</tspan><tspan x="15.01" class="s">4</tspan><tspan x="20.01" class="s">0</tspan></text>
<text transform="translate(381.0,497) rotate(-90)" class="t b" fill="#000" stroke="#000"><tspan x="0.01" class="s">0</tspan><tspan x="5.01" class="s">8</tspan><tspan x="11.21" class="s">:</tspan><tspan x="15.01" class="s">1</tspan><tspan x="20.01" class="s">0</tspan></text>
<text transform="translate(398.0,497) rotate(-90)" class="t b" fill="#000" stroke="#000"><tspan x="0.01" class="s">0</tspan><tspan x="5.01" class="s">8</tspan><tspan x="11.21" class="s">:</tspan><tspan x="15.01" class="s">4</tspan><tspan x="20.01" class="s">5</tspan></text>
<text transform="translate(415.0,497) rotate(-90)" class="t b" fill="#000" stroke="#000"><tspan x="0.01" class="s">0</tspan><tspan x="5.01" class="s">9</tspan><tspan x="11.21" class="s">:</tspan><tspan x="15.01" class="s">1</tspan><tspan x="20.01" class="s">0</tspan></text>
<text transform="translate(432.0,497) rotate(-90)" class="t b" fill="#000" stroke="#000"><tspan x="0.01" class="s">0</tspan><tspan x="5.01" class="s">9</tspan><tspan x="11.21" class="s">:</tspan><tspan x="15.01" class="s">3</tspan><tspan x="20.01" class="s">0</tspan></text>
<text transform="translate(449.0,497) rotate(-90)" class="t b" fill="#000" stroke="#000"><tspan x="0.01" class="s">0</tspan><tspan x="5.01" class="s">9</tspan><tspan x="11.21" class="s">:</tspan><tspan x="15.01" class="s">5</tspan><tspan x="20.01" class="s">5</tspan></text>
<text transform="translate(466.0,497) rotate(-90)" class="t b" fill="#000" stroke="#000"><tspan x="0.01" class="s">1</tspan><tspan x="5.01" class="s">0</tspan><tspan x="11.21" class="s">:</tspan><tspan x="15.01" class="s">1</tspan><tspan x="20.01" class="s">5</tspan></text>
<text transform="translate(483.0,497) rotate(-90)" class="t b" fill="#000" stroke="#000"><tspan x="0.01" class="s">1</tspan><tspan x="5.01" class="s">1</tspan><tspan x="11.21" class="s">:</tspan><tspan x="15.01" class="s">0</tspan><tspan x="20.01" class="s">0</tspan></text>
<text transform="translate(500.0,497) rotate(-90)" class="t b" fill="#000" stroke="#000"><tspan x="0.01" class="s">1</tspan><tspan x="5.01" class="s">1</tspan><tspan x="11.21" class="s">:</tspan><tspan x="15.01" class="s">2</tspan><tspan x="20.01" class="s">0</tspan></text>
<text transform="translate(517.0,497) rotate(-90)" class="t b" fill="#000" stroke="#000"><tspan x="0.01" class="s">1</tspan><tspan x="5.01" class="s">1</tspan><tspan x="11.21" class="s">:</tspan><tspan x="15.01" class="s">4</tspan><tspan x="20.01" class="s">0</tspan></text>
<text transform="translate(535.0,497) rotate(-90)" class="t b" fill="#000" stroke="#000"><tspan x="0.01" class="s">1</tspan><tspan x="5.01" class="s">2</tspan><tspan x="11.21" class="s">:</tspan><tspan x="15.01" class="s">2</tspan><tspan x="20.01" class="s">0</tspan></text>
<text transform="translate(552.0,497) rotate(-90)" class="t b" fill="#000" stroke="#000"><tspan x="0.01" class="s">1</tspan><tspan x="5.01" class="s">2</tspan><tspan x="11.21" class="s">:</tspan><tspan x="15.01" class="s">5</tspan><tspan x="20.01" class="s">0</tspan></text>
<text transform="translate(569.0,497) rotate(-90)" class="t b" fill="#000" stroke="#000"><tspan x="0.01" class="s">1</tspan><tspan x="5.01" class="s">3</tspan><tspan x="11.21" class="s">:</tspan><tspan x="15.01" class="s">2</tspan><tspan x="20.01" class="s">5</tspan></text>
<text transform="translate(586.0,497) rotate(-90)" class="t b" fill="#000" stroke="#000"><tspan x="0.01" class="s">1</tspan><tspan x="5.01" class="s">4</tspan><tspan x="11.21" class="s">:</tspan><tspan x="15.01" class="s">1</tspan><tspan x="20.01" class="s">0</tspan></text>
<text transform="translate(603.0,497) rotate(-90)" class="t b" fill="#000" stroke="#000"><tspan x="0.01" class="s">1</tspan><tspan x="5.01" class="s">4</tspan><tspan x="11.21" class="s">:</tspan><tspan x="15.01" class="s">5</tspan><tspan x="20.01" class="s">0</tspan></text>
<text transform="translate(620.0,497) rotate(-90)" class="t b" fill="#000" stroke="#000"><tspan x="0.01" class="s">1</tspan><tspan x="5.01" class="s">5</tspan><tspan x="11.21" class="s">:</tspan><tspan x="15.01" class="s">3</tspan><tspan x="20.01" class="s">5</tspan></text>
<text transform="translate(637.0,497) rotate(-90)" class="t b" fill="#000" stroke="#000"><tspan x="0.01" class="s">1</tspan><tspan x="5.01" class="s">6</tspan><tspan x="11.21" class="s">:</tspan><tspan x="15.01" class="s">2</tspan><tspan x="20.01" class="s">0</tspan></text>
<text transform="translate(654.0,497) rotate(-90)" class="t b" fill="#000" stroke="#000"><tspan x="0.01" class="s">1</tspan><tspan x="5.01" class="s">7</tspan><tspan x="11.21" class="s">:</tspan><tspan x="15.01" class="s">0</tspan><tspan x="20.01" class="s">0</tspan></text>
<text transform="translate(671.0,497) rotate(-90)" class="t b" fill="#000" stroke="#000"><tspan x="0.01" class="s">1</tspan><tspan x="5.01" class="s">7</tspan><tspan x="11.21" class="s">:</tspan><tspan x="15.01" class="s">4</tspan><tspan x="20.01" class="s">0</tspan></text>
<text transform="translate(689.0,497) rotate(-90)" class="t b" fill="#000" stroke="#000"><tspan x="0.01" class="s">1</tspan><tspan x="5.01" class="s">8</tspan><tspan x="11.21" class="s">:</tspan><tspan x="15.01" class="s">2</tspan><tspan x="20.01" class="s">0</tspan></text>
<text transform="translate(706.0,497) rotate(-90)" class="t b" fill="#000" stroke="#000"><tspan x="0.01" class="s">1</tspan><tspan x="5.01" class="s">9</tspan><tspan x="11.21" class="s">:</tspan><tspan x="15.01" class="s">1</tspan><tspan x="20.01" class="s">0</tspan></text>
<text transform="translate(723.0,497) rotate(-90)" class="t b" fill="#000" stroke="#000"><tspan x="0.01" class="s">1</tspan><tspan x="5.01" class="s">9</tspan><tspan x="11.21" class="s">:</tspan><tspan x="15.01" class="s">5</tspan><tspan x="20.01" class="s">0</tspan></text>
<text transform="translate(740.0,497) rotate(-90)" class="t b" fill="#000" stroke="#000"><tspan x="0.01" class="s">2</tspan><tspan x="5.01" class="s">0</tspan><tspan x="11.21" class="s">:</tspan><tspan x="15.01" class="s">2</tspan><tspan x="20.01" class="s">5</tspan></text>
<text transform="translate(757.0,497) rotate(-90)" class="t b" fill="#000" stroke="#000"><tspan x="0.01" class="s">2</tspan><tspan x="5.01" class="s">0</tspan><tspan x="11.21" class="s">:</tspan><tspan x="15.01" class="s">5</tspan><tspan x="20.01" class="s">5</tspan></text>
<text transform="translate(774.0,497) rotate(-90)" class="t b" fill="#000" stroke="#000"><tspan x="0.01" class="s">2</tspan><tspan x="5.01" class="s">1</tspan><tspan x="11.21" class="s">:</tspan><tspan x="15.01" class="s">5</tspan><tspan x="20.01" class="s">0</tspan></text>
<text transform="translate(791.0,497) rotate(-90)" class="t b" fill="#000" stroke="#000"><tspan x="0.01" class="s">2</tspan><tspan x="5.01" class="s">2</tspan><tspan x="11.21" class="s">:</tspan><tspan x="15.01" class="s">3</tspan><tspan x="20.01" class="s">0</tspan></text>
<text transform="translate(808.0,497) rotate(-90)" class="t b" fill="#000" stroke="#000"><tspan x="0.01" class="s">2</tspan><tspan x="5.01" class="s">3</tspan><tspan x="11.21" class="s">:</tspan><tspan x="15.01" class="s">1</tspan><tspan x="20.01" class="s">0</tspan></text>
<text transform="translate(826.0,497) rotate(-90)" class="t b" fill="#000" stroke="#000"><tspan x="0.01" class="s">2</tspan><tspan x="5.01" class="s">3</tspan><tspan x="11.21" class="s">:</tspan><tspan x="15.01" class="s">5</tspan><tspan x="20.01" class="s">0</tspan></text>
</g>
</svg></body></html>
